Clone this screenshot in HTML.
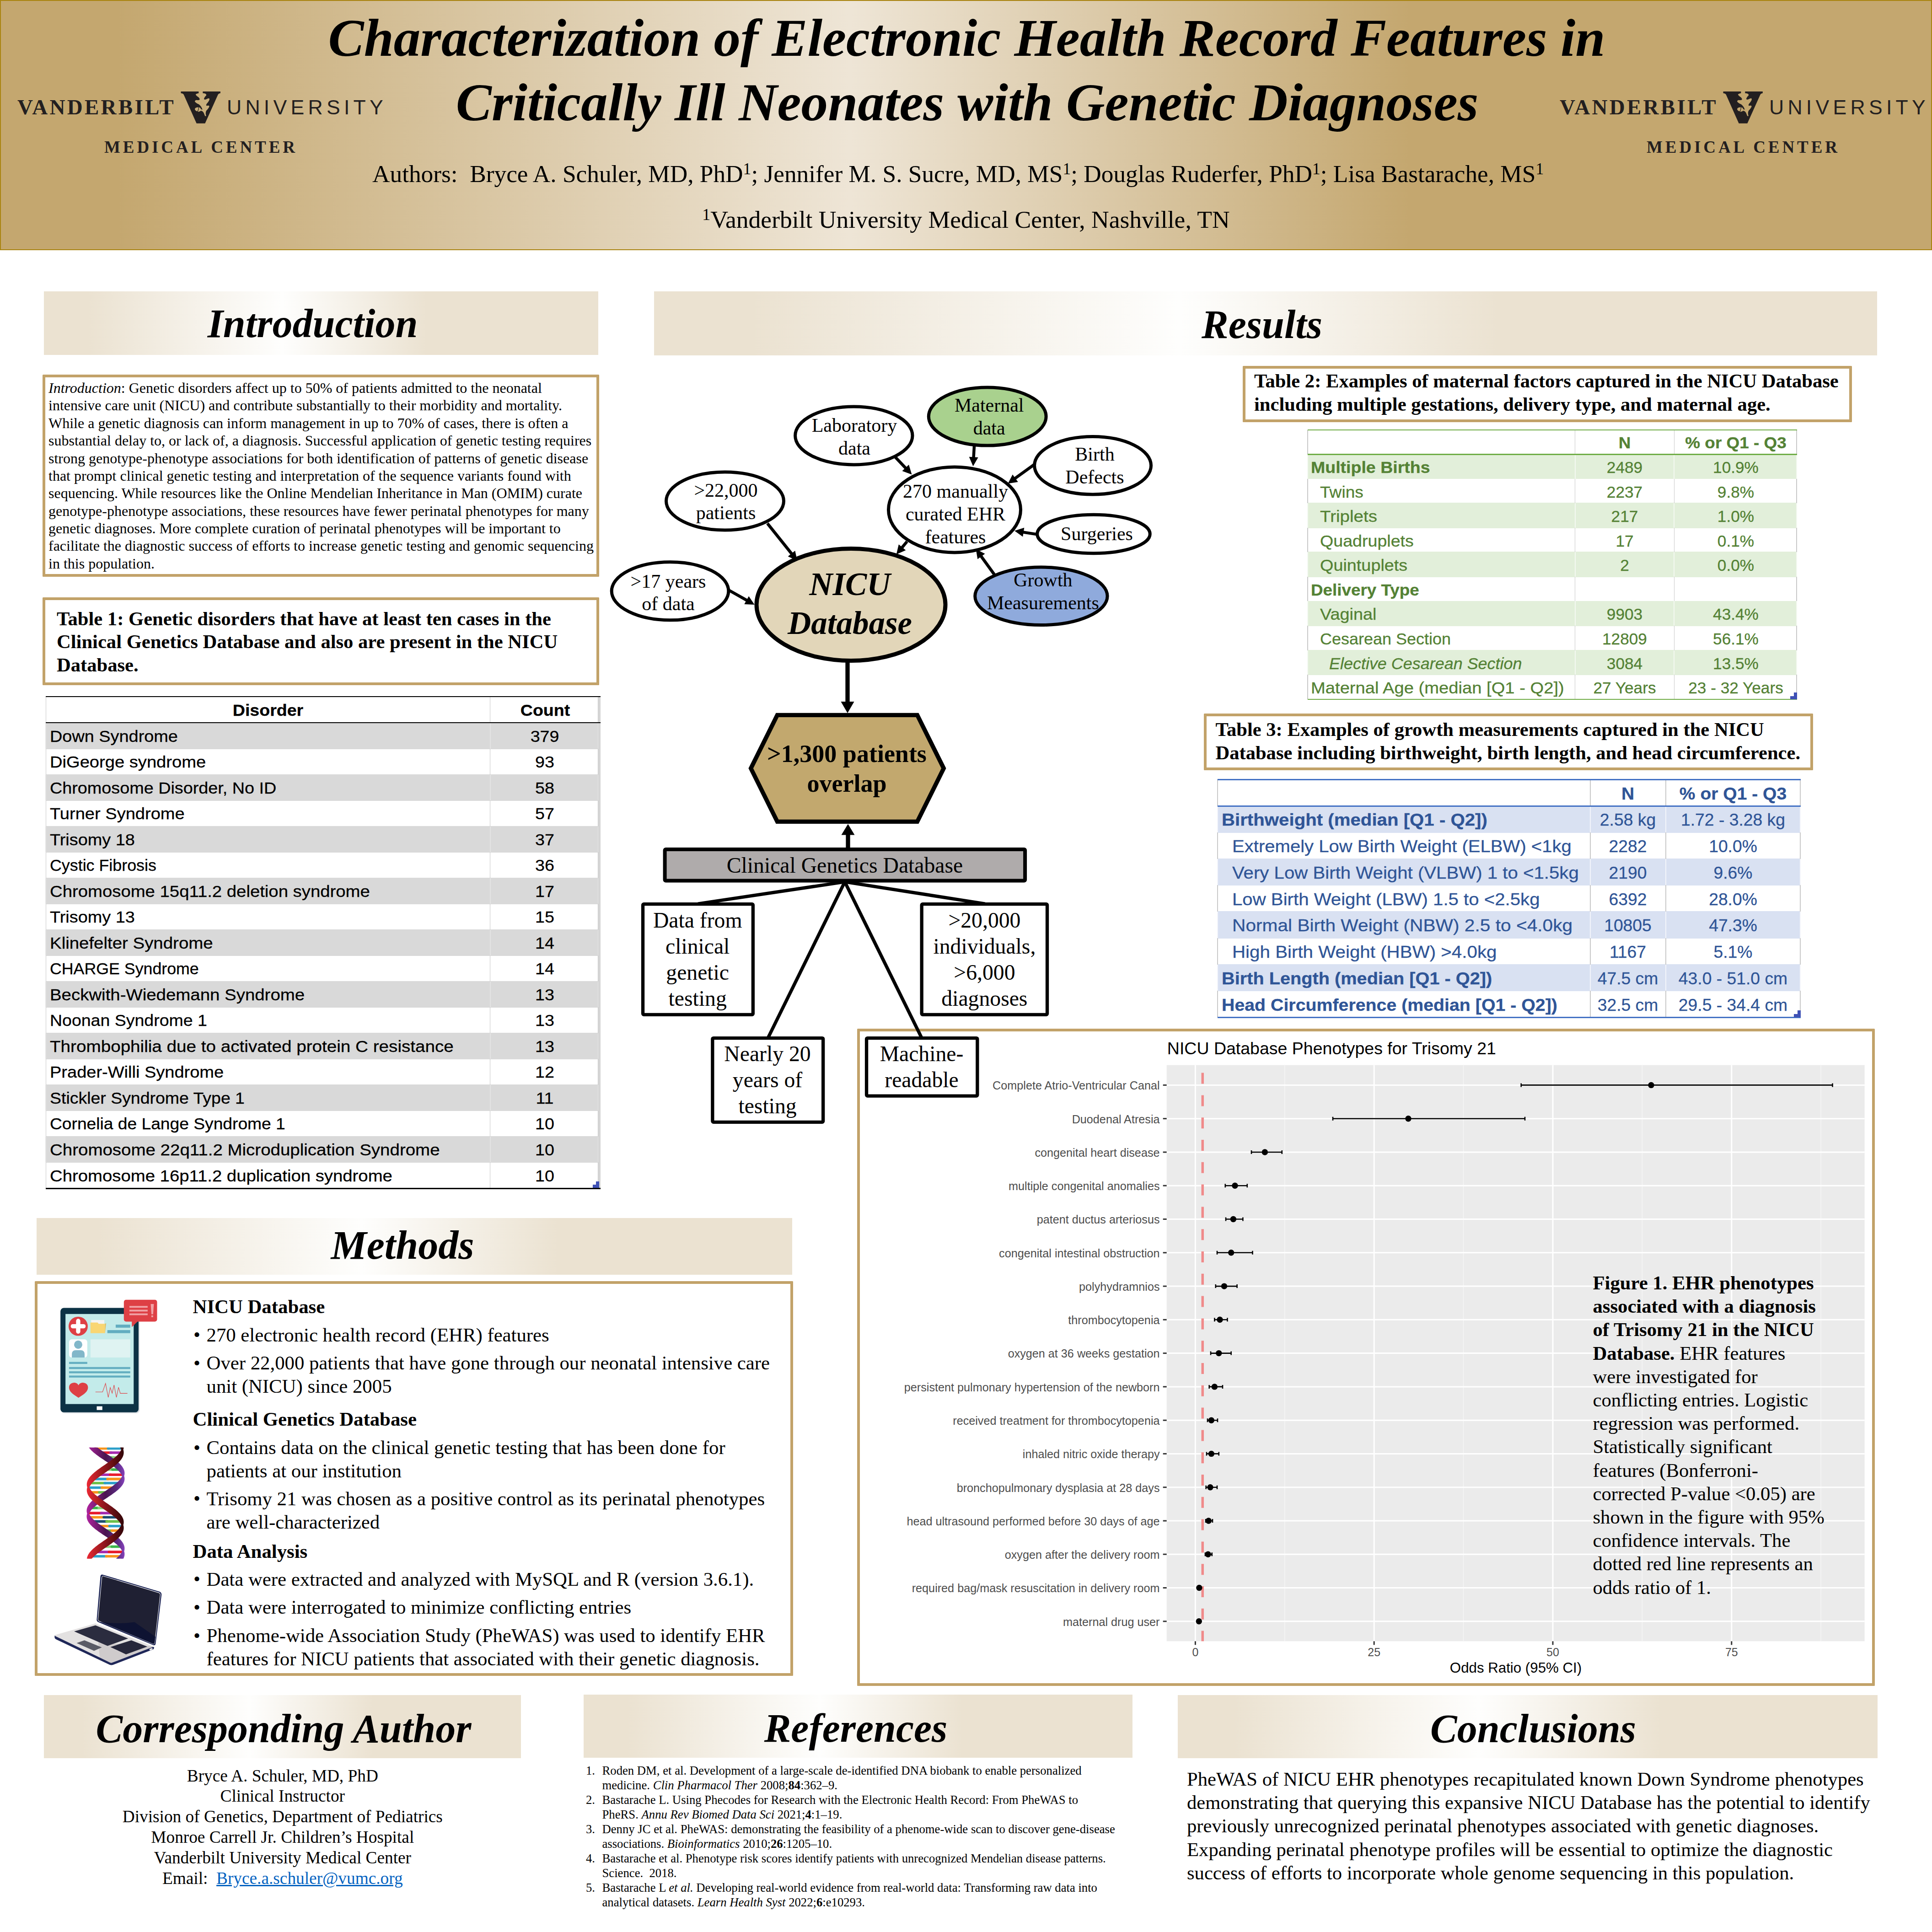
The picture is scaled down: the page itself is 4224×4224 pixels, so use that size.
<!DOCTYPE html>
<html lang="en"><head><meta charset="utf-8"><title>Characterization of Electronic Health Record Features in Critically Ill Neonates with Genetic Diagnoses</title>
<style>
html,body{margin:0;padding:0;background:#fff;}
body{width:4224px;height:4224px;position:relative;overflow:hidden;font-family:"Liberation Serif",serif;color:#000;}
.t{position:absolute;white-space:nowrap;margin:0;padding:0;}
.b{position:absolute;margin:0;padding:0;}
.sup{font-size:66.7%;position:relative;top:-0.465em;line-height:0;}
svg text{white-space:pre;}
</style></head><body>
<div class="b" style="left:0.0px;top:0.0px;width:4224.0px;height:547.0px;background:linear-gradient(90deg,#c4a76f 0%,#c4a76f 6%,#eee5d6 44%,#c4a76f 73%,#c4a76f 100%);box-sizing:border-box;border:2px solid #a98412;"></div>
<div class="t" style="left:613.5px;width:3000px;text-align:center;top:12.9px;font-family:'Liberation Serif', serif;font-size:117.15px;line-height:140.58px;font-weight:bold;font-style:italic;">Characterization of Electronic Health Record Features in</div>
<div class="t" style="left:614.5px;width:3000px;text-align:center;top:154.2px;font-family:'Liberation Serif', serif;font-size:117.15px;line-height:140.58px;font-weight:bold;font-style:italic;">Critically Ill Neonates with Genetic Diagnoses</div>
<div class="t" style="left:814.0px;top:348.5px;font-family:'Liberation Serif', serif;font-size:53.30px;line-height:63.96px;">Authors:&nbsp; Bryce A. Schuler, MD, PhD<span class="sup">1</span>; Jennifer M. S. Sucre, MD, MS<span class="sup">1</span>; Douglas Ruderfer, PhD<span class="sup">1</span>; Lisa Bastarache, MS<span class="sup">1</span></div>
<div class="t" style="left:612.0px;width:3000px;text-align:center;top:447.8px;font-family:'Liberation Serif', serif;font-size:53.60px;line-height:64.32px;"><span class="sup">1</span>Vanderbilt University Medical Center, Nashville, TN</div>
<div class="t" style="left:38.0px;top:205.9px;font-family:'Liberation Serif', serif;font-size:47.00px;line-height:56.40px;font-weight:bold;letter-spacing:4.3px;color:#231f20;">VANDERBILT</div>
<div class="t" style="left:496.0px;top:208.1px;font-family:'Liberation Sans', sans-serif;font-size:44.50px;line-height:53.40px;letter-spacing:8.3px;color:#231f20;font-weight:normal;">UNIVERSITY</div>
<div class="t" style="left:228.0px;top:300.3px;font-family:'Liberation Serif', serif;font-size:37.00px;line-height:44.40px;font-weight:bold;letter-spacing:5.9px;color:#231f20;">MEDICAL CENTER</div>
<svg class="b" style="left:380px;top:190px" width="120" height="90" viewBox="0 0 1932 1449"><path fill-rule="evenodd" fill="#231f20" d="M250 160 H1640 V222 Q1590 228 1560 262 L1100 1285 H800 L345 262 Q315 228 250 222 Z M875 160 V222 Q800 235 770 262 Q775 300 850 350 Q920 400 910 445 Q890 480 800 462 Q745 470 740 510 Q760 560 880 610 Q960 660 1010 800 L960 790 Q930 720 890 715 Q880 800 850 870 Q870 890 960 838 Q1020 850 1050 905 L1100 1025 H1140 Q1100 900 1150 830 Q1240 740 1250 680 Q1240 645 1160 665 Q1120 650 1160 590 Q1260 480 1255 420 Q1235 380 1150 430 Q1070 470 1060 420 Q1070 360 1140 300 Q1160 260 1100 235 Q1060 225 1020 222 V160 Z M870 715 Q860 800 830 860 Q750 840 740 780 Q750 715 870 715 Z"/></svg>
<div class="t" style="left:3410.0px;top:205.9px;font-family:'Liberation Serif', serif;font-size:47.00px;line-height:56.40px;font-weight:bold;letter-spacing:4.3px;color:#231f20;">VANDERBILT</div>
<div class="t" style="left:3868.0px;top:208.1px;font-family:'Liberation Sans', sans-serif;font-size:44.50px;line-height:53.40px;letter-spacing:8.3px;color:#231f20;font-weight:normal;">UNIVERSITY</div>
<div class="t" style="left:3600.0px;top:300.3px;font-family:'Liberation Serif', serif;font-size:37.00px;line-height:44.40px;font-weight:bold;letter-spacing:5.9px;color:#231f20;">MEDICAL CENTER</div>
<svg class="b" style="left:3752px;top:190px" width="120" height="90" viewBox="0 0 1932 1449"><path fill-rule="evenodd" fill="#231f20" d="M250 160 H1640 V222 Q1590 228 1560 262 L1100 1285 H800 L345 262 Q315 228 250 222 Z M875 160 V222 Q800 235 770 262 Q775 300 850 350 Q920 400 910 445 Q890 480 800 462 Q745 470 740 510 Q760 560 880 610 Q960 660 1010 800 L960 790 Q930 720 890 715 Q880 800 850 870 Q870 890 960 838 Q1020 850 1050 905 L1100 1025 H1140 Q1100 900 1150 830 Q1240 740 1250 680 Q1240 645 1160 665 Q1120 650 1160 590 Q1260 480 1255 420 Q1235 380 1150 430 Q1070 470 1060 420 Q1070 360 1140 300 Q1160 260 1100 235 Q1060 225 1020 222 V160 Z M870 715 Q860 800 830 860 Q750 840 740 780 Q750 715 870 715 Z"/></svg>
<div class="b" style="left:96.0px;top:637.0px;width:1212.0px;height:139.0px;background:linear-gradient(90deg,#ebe2d1 0%,#ebe2d1 8%,#fefefd 43%,#ebe2d1 69%,#ebe2d1 100%);"></div>
<div class="t" style="left:-816.5px;width:3000px;text-align:center;top:654.7px;font-family:'Liberation Serif', serif;font-size:88.00px;line-height:105.60px;font-weight:bold;font-style:italic;">Introduction</div>
<div class="b" style="left:93.3px;top:819.0px;width:1205.0px;height:429.5px;border:6.5px solid #c2a269;border-radius:1.5px;background:#fff"></div>
<div class="t" style="left:106.0px;top:829.0px;font-family:'Liberation Serif', serif;font-size:32.00px;line-height:38.37px;"><i>Introduction</i>: Genetic disorders affect up to 50% of patients admitted to the neonatal<br>intensive care unit (NICU) and contribute substantially to their morbidity and mortality.<br>While a genetic diagnosis can inform management in up to 70% of cases, there is often a<br>substantial delay to, or lack of, a diagnosis. Successful application of genetic testing requires<br>strong genotype-phenotype associations for both identification of patterns of genetic disease<br>that prompt clinical genetic testing and interpretation of the sequence variants found with<br>sequencing. While resources like the Online Mendelian Inheritance in Man (OMIM) curate<br>genotype-phenotype associations, these resources have fewer perinatal phenotypes for many<br>genetic diagnoses. More complete curation of perinatal phenotypes will be important to<br>facilitate the diagnostic success of efforts to increase genetic testing and genomic sequencing<br>in this population.</div>
<div class="b" style="left:93.3px;top:1306.0px;width:1205.0px;height:180.0px;border:6.5px solid #c2a269;border-radius:1.5px;background:#fff"></div>
<div class="t" style="left:124.0px;top:1327.9px;font-family:'Liberation Serif', serif;font-size:42.60px;line-height:50.50px;font-weight:bold;">Table 1: Genetic disorders that have at least ten cases in the<br>Clinical Genetics Database and also are present in the NICU<br>Database.</div>
<div class="b" style="left:80.0px;top:2662.8px;width:1651.8px;height:124.2px;background:linear-gradient(90deg,#ebe2d1 0%,#ebe2d1 8%,#fefefd 43%,#ebe2d1 69%,#ebe2d1 100%);"></div>
<div class="t" style="left:-620.0px;width:3000px;text-align:center;top:2669.5px;font-family:'Liberation Serif', serif;font-size:88.00px;line-height:105.60px;font-weight:bold;font-style:italic;">Methods</div>
<div class="b" style="left:76.0px;top:2801.0px;width:1646.4px;height:850.8px;border:6.6px solid #c2a269;border-radius:1.5px;background:#fff"></div>
<div class="t" style="left:421.5px;top:2830.9px;font-family:'Liberation Serif', serif;font-size:42.78px;line-height:51.34px;font-weight:bold;">NICU Database</div>
<div class="t" style="left:423.0px;top:2892.3px;font-family:'Liberation Serif', serif;font-size:42.78px;line-height:51.34px;">•</div>
<div class="t" style="left:451.5px;top:2892.5px;font-family:'Liberation Serif', serif;font-size:42.78px;line-height:51.00px;">270 electronic health record (EHR) features</div>
<div class="t" style="left:423.0px;top:2953.9px;font-family:'Liberation Serif', serif;font-size:42.78px;line-height:51.34px;">•</div>
<div class="t" style="left:451.5px;top:2954.1px;font-family:'Liberation Serif', serif;font-size:42.78px;line-height:51.00px;">Over 22,000 patients that have gone through our neonatal intensive care<br>unit (NICU) since 2005</div>
<div class="t" style="left:421.5px;top:3076.9px;font-family:'Liberation Serif', serif;font-size:42.78px;line-height:51.34px;font-weight:bold;">Clinical Genetics Database</div>
<div class="t" style="left:423.0px;top:3138.6px;font-family:'Liberation Serif', serif;font-size:42.78px;line-height:51.34px;">•</div>
<div class="t" style="left:451.5px;top:3138.8px;font-family:'Liberation Serif', serif;font-size:42.78px;line-height:51.00px;">Contains data on the clinical genetic testing that has been done for<br>patients at our institution</div>
<div class="t" style="left:423.0px;top:3250.4px;font-family:'Liberation Serif', serif;font-size:42.78px;line-height:51.34px;">•</div>
<div class="t" style="left:451.5px;top:3250.6px;font-family:'Liberation Serif', serif;font-size:42.78px;line-height:51.00px;">Trisomy 21 was chosen as a positive control as its perinatal phenotypes<br>are well-characterized</div>
<div class="t" style="left:421.5px;top:3365.6px;font-family:'Liberation Serif', serif;font-size:42.78px;line-height:51.34px;font-weight:bold;">Data Analysis</div>
<div class="t" style="left:423.0px;top:3426.4px;font-family:'Liberation Serif', serif;font-size:42.78px;line-height:51.34px;">•</div>
<div class="t" style="left:451.5px;top:3426.6px;font-family:'Liberation Serif', serif;font-size:42.78px;line-height:51.00px;">Data were extracted and analyzed with MySQL and R (version 3.6.1).</div>
<div class="t" style="left:423.0px;top:3487.9px;font-family:'Liberation Serif', serif;font-size:42.78px;line-height:51.34px;">•</div>
<div class="t" style="left:451.5px;top:3488.1px;font-family:'Liberation Serif', serif;font-size:42.78px;line-height:51.00px;">Data were interrogated to minimize conflicting entries</div>
<div class="t" style="left:423.0px;top:3549.5px;font-family:'Liberation Serif', serif;font-size:42.78px;line-height:51.34px;">•</div>
<div class="t" style="left:451.5px;top:3549.7px;font-family:'Liberation Serif', serif;font-size:42.78px;line-height:51.00px;">Phenome-wide Association Study (PheWAS) was used to identify EHR<br>features for NICU patients that associated with their genetic diagnosis.</div>
<div class="b" style="left:1430.0px;top:637.0px;width:2674.0px;height:140.0px;background:linear-gradient(90deg,#ebe2d1 0%,#ebe2d1 8%,#fefefd 43%,#ebe2d1 69%,#ebe2d1 100%);"></div>
<div class="t" style="left:1259.0px;width:3000px;text-align:center;top:657.1px;font-family:'Liberation Serif', serif;font-size:88.00px;line-height:105.60px;font-weight:bold;font-style:italic;">Results</div>
<div class="b" style="left:96.0px;top:3705.5px;width:1043.0px;height:138.5px;background:linear-gradient(90deg,#ebe2d1 0%,#ebe2d1 8%,#fefefd 43%,#ebe2d1 69%,#ebe2d1 100%);"></div>
<div class="t" style="left:-880.0px;width:3000px;text-align:center;top:3726.5px;font-family:'Liberation Serif', serif;font-size:88.00px;line-height:105.60px;font-weight:bold;font-style:italic;">Corresponding Author</div>
<div class="t" style="left:17.8px;width:1200px;text-align:center;top:3860.7px;font-family:'Liberation Serif', serif;font-size:37.30px;line-height:44.78px;">Bryce A. Schuler, MD, PhD<br>Clinical Instructor<br>Division of Genetics, Department of Pediatrics<br>Monroe Carrell Jr. Children’s Hospital<br>Vanderbilt University Medical Center<br>Email:&nbsp; <span style="color:#0563c1;text-decoration:underline">Bryce.a.schuler@vumc.org</span></div>
<div class="b" style="left:1275.5px;top:3705.0px;width:1200.5px;height:138.0px;background:linear-gradient(90deg,#ebe2d1 0%,#ebe2d1 8%,#fefefd 43%,#ebe2d1 69%,#ebe2d1 100%);"></div>
<div class="t" style="left:371.0px;width:3000px;text-align:center;top:3726.0px;font-family:'Liberation Serif', serif;font-size:88.00px;line-height:105.60px;font-weight:bold;font-style:italic;">References</div>
<div class="t" style="left:1281.0px;top:3856.0px;font-family:'Liberation Serif', serif;font-size:26.70px;line-height:31.95px;">1.</div>
<div class="t" style="left:1316.5px;top:3856.0px;font-family:'Liberation Serif', serif;font-size:26.70px;line-height:31.95px;">Roden DM, et al. Development of a large-scale de-identified DNA biobank to enable personalized<br>medicine. <i>Clin Pharmacol Ther</i> 2008;<b>84</b>:362–9.</div>
<div class="t" style="left:1281.0px;top:3919.9px;font-family:'Liberation Serif', serif;font-size:26.70px;line-height:31.95px;">2.</div>
<div class="t" style="left:1316.5px;top:3919.9px;font-family:'Liberation Serif', serif;font-size:26.70px;line-height:31.95px;">Bastarache L. Using Phecodes for Research with the Electronic Health Record: From PheWAS to<br>PheRS. <i>Annu Rev Biomed Data Sci</i> 2021;<b>4</b>:1–19.</div>
<div class="t" style="left:1281.0px;top:3983.8px;font-family:'Liberation Serif', serif;font-size:26.70px;line-height:31.95px;">3.</div>
<div class="t" style="left:1316.5px;top:3983.8px;font-family:'Liberation Serif', serif;font-size:26.70px;line-height:31.95px;">Denny JC et al. PheWAS: demonstrating the feasibility of a phenome-wide scan to discover gene-disease<br>associations. <i>Bioinformatics</i> 2010;<b>26</b>:1205–10.</div>
<div class="t" style="left:1281.0px;top:4047.7px;font-family:'Liberation Serif', serif;font-size:26.70px;line-height:31.95px;">4.</div>
<div class="t" style="left:1316.5px;top:4047.7px;font-family:'Liberation Serif', serif;font-size:26.70px;line-height:31.95px;">Bastarache et al. Phenotype risk scores identify patients with unrecognized Mendelian disease patterns.<br>Science.&nbsp; 2018.</div>
<div class="t" style="left:1281.0px;top:4111.6px;font-family:'Liberation Serif', serif;font-size:26.70px;line-height:31.95px;">5.</div>
<div class="t" style="left:1316.5px;top:4111.6px;font-family:'Liberation Serif', serif;font-size:26.70px;line-height:31.95px;">Bastarache L <i>et al.</i> Developing real-world evidence from real-world data: Transforming raw data into<br>analytical datasets. <i>Learn Health Syst</i> 2022;<b>6</b>:e10293.</div>
<div class="b" style="left:2575.0px;top:3706.0px;width:1529.5px;height:138.0px;background:linear-gradient(90deg,#ebe2d1 0%,#ebe2d1 8%,#fefefd 43%,#ebe2d1 69%,#ebe2d1 100%);"></div>
<div class="t" style="left:1852.0px;width:3000px;text-align:center;top:3726.5px;font-family:'Liberation Serif', serif;font-size:88.00px;line-height:105.60px;font-weight:bold;font-style:italic;">Conclusions</div>
<div class="t" style="left:2595.0px;top:3864.0px;font-family:'Liberation Serif', serif;font-size:42.67px;line-height:51.20px;">PheWAS of NICU EHR phenotypes recapitulated known Down Syndrome phenotypes<br>demonstrating that querying this expansive NICU Database has the potential to identify<br>previously unrecognized perinatal phenotypes associated with genetic diagnoses.<br>Expanding perinatal phenotype profiles will be essential to optimize the diagnostic<br>success of efforts to incorporate whole genome sequencing in this population.</div>
<div class="b" style="left:1873.8px;top:2249.3px;width:2213.1px;height:1424.6px;border:6.3px solid #c2a269;border-radius:1.5px;background:#fff"></div>
<svg class="b" style="left:0;top:0" width="4224" height="4224" viewBox="0 0 4224 4224" font-family="'Liberation Sans', sans-serif">
<rect x="2550.7" y="2328.6" width="1526.0" height="1259.7000000000003" fill="#ebebeb"/>
<line x1="2808.8" y1="2328.6" x2="2808.8" y2="3588.3" stroke="#f5f5f5" stroke-width="1.6"/>
<line x1="3199.6" y1="2328.6" x2="3199.6" y2="3588.3" stroke="#f5f5f5" stroke-width="1.6"/>
<line x1="3590.4" y1="2328.6" x2="3590.4" y2="3588.3" stroke="#f5f5f5" stroke-width="1.6"/>
<line x1="3981.2" y1="2328.6" x2="3981.2" y2="3588.3" stroke="#f5f5f5" stroke-width="1.6"/>
<line x1="2613.4" y1="2328.6" x2="2613.4" y2="3588.3" stroke="#fff" stroke-width="3"/>
<line x1="2613.4" y1="3588.3" x2="2613.4" y2="3596.3" stroke="#333" stroke-width="3"/>
<text x="2613.4" y="3620.8" font-size="25" fill="#4d4d4d" text-anchor="middle">0</text>
<line x1="3004.2" y1="2328.6" x2="3004.2" y2="3588.3" stroke="#fff" stroke-width="3"/>
<line x1="3004.2" y1="3588.3" x2="3004.2" y2="3596.3" stroke="#333" stroke-width="3"/>
<text x="3004.2" y="3620.8" font-size="25" fill="#4d4d4d" text-anchor="middle">25</text>
<line x1="3395.0" y1="2328.6" x2="3395.0" y2="3588.3" stroke="#fff" stroke-width="3"/>
<line x1="3395.0" y1="3588.3" x2="3395.0" y2="3596.3" stroke="#333" stroke-width="3"/>
<text x="3395.0" y="3620.8" font-size="25" fill="#4d4d4d" text-anchor="middle">50</text>
<line x1="3785.8" y1="2328.6" x2="3785.8" y2="3588.3" stroke="#fff" stroke-width="3"/>
<line x1="3785.8" y1="3588.3" x2="3785.8" y2="3596.3" stroke="#333" stroke-width="3"/>
<text x="3785.8" y="3620.8" font-size="25" fill="#4d4d4d" text-anchor="middle">75</text>
<line x1="2550.7" y1="2372.4" x2="4076.7" y2="2372.4" stroke="#fff" stroke-width="3"/>
<line x1="2550.7" y1="2445.7" x2="4076.7" y2="2445.7" stroke="#fff" stroke-width="3"/>
<line x1="2550.7" y1="2519.0" x2="4076.7" y2="2519.0" stroke="#fff" stroke-width="3"/>
<line x1="2550.7" y1="2592.2" x2="4076.7" y2="2592.2" stroke="#fff" stroke-width="3"/>
<line x1="2550.7" y1="2665.5" x2="4076.7" y2="2665.5" stroke="#fff" stroke-width="3"/>
<line x1="2550.7" y1="2738.8" x2="4076.7" y2="2738.8" stroke="#fff" stroke-width="3"/>
<line x1="2550.7" y1="2812.1" x2="4076.7" y2="2812.1" stroke="#fff" stroke-width="3"/>
<line x1="2550.7" y1="2885.3" x2="4076.7" y2="2885.3" stroke="#fff" stroke-width="3"/>
<line x1="2550.7" y1="2958.6" x2="4076.7" y2="2958.6" stroke="#fff" stroke-width="3"/>
<line x1="2550.7" y1="3031.9" x2="4076.7" y2="3031.9" stroke="#fff" stroke-width="3"/>
<line x1="2550.7" y1="3105.2" x2="4076.7" y2="3105.2" stroke="#fff" stroke-width="3"/>
<line x1="2550.7" y1="3178.4" x2="4076.7" y2="3178.4" stroke="#fff" stroke-width="3"/>
<line x1="2550.7" y1="3251.7" x2="4076.7" y2="3251.7" stroke="#fff" stroke-width="3"/>
<line x1="2550.7" y1="3325.0" x2="4076.7" y2="3325.0" stroke="#fff" stroke-width="3"/>
<line x1="2550.7" y1="3398.2" x2="4076.7" y2="3398.2" stroke="#fff" stroke-width="3"/>
<line x1="2550.7" y1="3471.5" x2="4076.7" y2="3471.5" stroke="#fff" stroke-width="3"/>
<line x1="2550.7" y1="3544.8" x2="4076.7" y2="3544.8" stroke="#fff" stroke-width="3"/>
<line x1="2629.3" y1="2345.6" x2="2629.3" y2="3588.3" stroke="#f08a8a" stroke-width="5.5" stroke-dasharray="24 24.8"/>
<line x1="2542.7" y1="2372.4" x2="2550.7" y2="2372.4" stroke="#333" stroke-width="3"/>
<text x="2535.5" y="2382.2" font-size="25.2" fill="#4d4d4d" text-anchor="end">Complete Atrio-Ventricular Canal</text>
<path d="M3325.7 2372.4 H4006.5 M3325.7 2368.4 v8 M4006.5 2368.4 v8" stroke="#000" stroke-width="2.6" fill="none"/>
<circle cx="3610.0" cy="2372.4" r="6.7" fill="#000"/>
<line x1="2542.7" y1="2445.7" x2="2550.7" y2="2445.7" stroke="#333" stroke-width="3"/>
<text x="2535.5" y="2455.5" font-size="25.2" fill="#4d4d4d" text-anchor="end">Duodenal Atresia</text>
<path d="M2914.0 2445.7 H3334.0 M2914.0 2441.7 v8 M3334.0 2441.7 v8" stroke="#000" stroke-width="2.6" fill="none"/>
<circle cx="3079.0" cy="2445.7" r="6.7" fill="#000"/>
<line x1="2542.7" y1="2519.0" x2="2550.7" y2="2519.0" stroke="#333" stroke-width="3"/>
<text x="2535.5" y="2528.8" font-size="25.2" fill="#4d4d4d" text-anchor="end">congenital heart disease</text>
<path d="M2736.0 2519.0 H2802.8 M2736.0 2515.0 v8 M2802.8 2515.0 v8" stroke="#000" stroke-width="2.6" fill="none"/>
<circle cx="2765.4" cy="2519.0" r="6.7" fill="#000"/>
<line x1="2542.7" y1="2592.2" x2="2550.7" y2="2592.2" stroke="#333" stroke-width="3"/>
<text x="2535.5" y="2602.0" font-size="25.2" fill="#4d4d4d" text-anchor="end">multiple congenital anomalies</text>
<path d="M2678.8 2592.2 H2726.8 M2678.8 2588.2 v8 M2726.8 2588.2 v8" stroke="#000" stroke-width="2.6" fill="none"/>
<circle cx="2700.0" cy="2592.2" r="6.7" fill="#000"/>
<line x1="2542.7" y1="2665.5" x2="2550.7" y2="2665.5" stroke="#333" stroke-width="3"/>
<text x="2535.5" y="2675.3" font-size="25.2" fill="#4d4d4d" text-anchor="end">patent ductus arteriosus</text>
<path d="M2680.0 2665.5 H2717.4 M2680.0 2661.5 v8 M2717.4 2661.5 v8" stroke="#000" stroke-width="2.6" fill="none"/>
<circle cx="2696.4" cy="2665.5" r="6.7" fill="#000"/>
<line x1="2542.7" y1="2738.8" x2="2550.7" y2="2738.8" stroke="#333" stroke-width="3"/>
<text x="2535.5" y="2748.6" font-size="25.2" fill="#4d4d4d" text-anchor="end">congenital intestinal obstruction</text>
<path d="M2661.0 2738.8 H2738.5 M2661.0 2734.8 v8 M2738.5 2734.8 v8" stroke="#000" stroke-width="2.6" fill="none"/>
<circle cx="2691.7" cy="2738.8" r="6.7" fill="#000"/>
<line x1="2542.7" y1="2812.1" x2="2550.7" y2="2812.1" stroke="#333" stroke-width="3"/>
<text x="2535.5" y="2821.9" font-size="25.2" fill="#4d4d4d" text-anchor="end">polyhydramnios</text>
<path d="M2657.8 2812.1 H2704.6 M2657.8 2808.1 v8 M2704.6 2808.1 v8" stroke="#000" stroke-width="2.6" fill="none"/>
<circle cx="2676.5" cy="2812.1" r="6.7" fill="#000"/>
<line x1="2542.7" y1="2885.3" x2="2550.7" y2="2885.3" stroke="#333" stroke-width="3"/>
<text x="2535.5" y="2895.1" font-size="25.2" fill="#4d4d4d" text-anchor="end">thrombocytopenia</text>
<path d="M2655.4 2885.3 H2683.5 M2655.4 2881.3 v8 M2683.5 2881.3 v8" stroke="#000" stroke-width="2.6" fill="none"/>
<circle cx="2667.0" cy="2885.3" r="6.7" fill="#000"/>
<line x1="2542.7" y1="2958.6" x2="2550.7" y2="2958.6" stroke="#333" stroke-width="3"/>
<text x="2535.5" y="2968.4" font-size="25.2" fill="#4d4d4d" text-anchor="end">oxygen at 36 weeks gestation</text>
<path d="M2647.0 2958.6 H2691.7 M2647.0 2954.6 v8 M2691.7 2954.6 v8" stroke="#000" stroke-width="2.6" fill="none"/>
<circle cx="2664.8" cy="2958.6" r="6.7" fill="#000"/>
<line x1="2542.7" y1="3031.9" x2="2550.7" y2="3031.9" stroke="#333" stroke-width="3"/>
<text x="2535.5" y="3041.7" font-size="25.2" fill="#4d4d4d" text-anchor="end">persistent pulmonary hypertension of the newborn</text>
<path d="M2643.7 3031.9 H2673.0 M2643.7 3027.9 v8 M2673.0 3027.9 v8" stroke="#000" stroke-width="2.6" fill="none"/>
<circle cx="2655.4" cy="3031.9" r="6.7" fill="#000"/>
<line x1="2542.7" y1="3105.2" x2="2550.7" y2="3105.2" stroke="#333" stroke-width="3"/>
<text x="2535.5" y="3115.0" font-size="25.2" fill="#4d4d4d" text-anchor="end">received treatment for thrombocytopenia</text>
<path d="M2640.0 3105.2 H2662.0 M2640.0 3101.2 v8 M2662.0 3101.2 v8" stroke="#000" stroke-width="2.6" fill="none"/>
<circle cx="2648.4" cy="3105.2" r="6.7" fill="#000"/>
<line x1="2542.7" y1="3178.4" x2="2550.7" y2="3178.4" stroke="#333" stroke-width="3"/>
<text x="2535.5" y="3188.2" font-size="25.2" fill="#4d4d4d" text-anchor="end">inhaled nitric oxide therapy</text>
<path d="M2638.0 3178.4 H2664.8 M2638.0 3174.4 v8 M2664.8 3174.4 v8" stroke="#000" stroke-width="2.6" fill="none"/>
<circle cx="2648.4" cy="3178.4" r="6.7" fill="#000"/>
<line x1="2542.7" y1="3251.7" x2="2550.7" y2="3251.7" stroke="#333" stroke-width="3"/>
<text x="2535.5" y="3261.5" font-size="25.2" fill="#4d4d4d" text-anchor="end">bronchopulmonary dysplasia at 28 days</text>
<path d="M2636.7 3251.7 H2661.0 M2636.7 3247.7 v8 M2661.0 3247.7 v8" stroke="#000" stroke-width="2.6" fill="none"/>
<circle cx="2646.0" cy="3251.7" r="6.7" fill="#000"/>
<line x1="2542.7" y1="3325.0" x2="2550.7" y2="3325.0" stroke="#333" stroke-width="3"/>
<text x="2535.5" y="3334.8" font-size="25.2" fill="#4d4d4d" text-anchor="end">head ultrasound performed before 30 days of age</text>
<path d="M2636.0 3325.0 H2651.0 M2636.0 3321.0 v8 M2651.0 3321.0 v8" stroke="#000" stroke-width="2.6" fill="none"/>
<circle cx="2642.3" cy="3325.0" r="6.7" fill="#000"/>
<line x1="2542.7" y1="3398.2" x2="2550.7" y2="3398.2" stroke="#333" stroke-width="3"/>
<text x="2535.5" y="3408.1" font-size="25.2" fill="#4d4d4d" text-anchor="end">oxygen after the delivery room</text>
<path d="M2635.0 3398.2 H2649.8 M2635.0 3394.2 v8 M2649.8 3394.2 v8" stroke="#000" stroke-width="2.6" fill="none"/>
<circle cx="2641.2" cy="3398.2" r="6.7" fill="#000"/>
<line x1="2542.7" y1="3471.5" x2="2550.7" y2="3471.5" stroke="#333" stroke-width="3"/>
<text x="2535.5" y="3481.3" font-size="25.2" fill="#4d4d4d" text-anchor="end">required bag/mask resuscitation in delivery room</text>
<circle cx="2621.9" cy="3471.5" r="6.7" fill="#000"/>
<line x1="2542.7" y1="3544.8" x2="2550.7" y2="3544.8" stroke="#333" stroke-width="3"/>
<text x="2535.5" y="3554.6" font-size="25.2" fill="#4d4d4d" text-anchor="end">maternal drug user</text>
<circle cx="2621.3" cy="3544.8" r="6.7" fill="#000"/>
<text x="2551.8" y="2305.2" font-size="37.5" fill="#000">NICU Database Phenotypes for Trisomy 21</text>
<text x="3314" y="3656.8" font-size="31.25" fill="#000" text-anchor="middle">Odds Ratio (95% CI)</text>
</svg>
<div class="t" style="left:3482.5px;top:2779.0px;font-family:'Liberation Serif', serif;font-size:42.70px;line-height:51.20px;"><b>Figure 1. EHR phenotypes</b><br><b>associated with a diagnosis</b><br><b>of Trisomy 21 in the NICU</b><br><b>Database.</b> EHR features<br>were investigated for<br>conflicting entries. Logistic<br>regression was performed.<br>Statistically significant<br>features (Bonferroni-<br>corrected P-value &lt;0.05) are<br>shown in the figure with 95%<br>confidence intervals. The<br>dotted red line represents an<br>odds ratio of 1.</div>
<svg class="b" style="left:0;top:0" width="4224" height="4224" viewBox="0 0 4224 4224" font-family="'Liberation Serif', serif">
<line x1="1592.0" y1="1289.5" x2="1633.9" y2="1313.2" stroke="#000" stroke-width="6.5"/>
<polygon points="1649.6,1322.0 1627.3,1320.9 1637.1,1303.5" fill="#000"/>
<line x1="1677.8" y1="1144.4" x2="1731.8" y2="1211.9" stroke="#000" stroke-width="6.5"/>
<polygon points="1743.0,1226.0 1722.7,1216.6 1738.3,1204.1" fill="#000"/>
<line x1="1957.0" y1="999.0" x2="1981.1" y2="1024.4" stroke="#000" stroke-width="6.5"/>
<polygon points="1993.5,1037.4 1972.5,1029.8 1987.0,1016.0" fill="#000"/>
<line x1="2130.2" y1="972.0" x2="2128.5" y2="1001.3" stroke="#000" stroke-width="6.5"/>
<polygon points="2127.5,1019.3 2118.7,998.8 2138.6,999.9" fill="#000"/>
<line x1="2262.0" y1="1015.0" x2="2218.2" y2="1046.7" stroke="#000" stroke-width="6.5"/>
<polygon points="2203.6,1057.3 2213.9,1037.5 2225.7,1053.7" fill="#000"/>
<line x1="2268.0" y1="1168.4" x2="2235.8" y2="1163.4" stroke="#000" stroke-width="6.5"/>
<polygon points="2218.0,1160.6 2239.3,1153.8 2236.2,1173.6" fill="#000"/>
<line x1="2175.0" y1="1257.5" x2="2144.2" y2="1215.0" stroke="#000" stroke-width="6.5"/>
<polygon points="2133.7,1200.4 2153.5,1210.7 2137.3,1222.5" fill="#000"/>
<line x1="1983.0" y1="1184.0" x2="1971.3" y2="1198.1" stroke="#000" stroke-width="6.5"/>
<polygon points="1959.8,1212.0 1964.9,1190.2 1980.3,1203.0" fill="#000"/>
<line x1="1853.0" y1="1440.0" x2="1853.0" y2="1536.0" stroke="#000" stroke-width="9.3"/>
<polygon points="1853.0,1559.0 1838.5,1534.0 1867.5,1534.0" fill="#000"/>
<line x1="1854.0" y1="1858.0" x2="1854.0" y2="1823.5" stroke="#000" stroke-width="9.3"/>
<polygon points="1854.0,1801.5 1868.5,1825.5 1839.5,1825.5" fill="#000"/>
<line x1="1847" y1="1928" x2="1526" y2="1976" stroke="#000" stroke-width="7.3"/>
<line x1="1847" y1="1928" x2="1679.2" y2="2269" stroke="#000" stroke-width="7.3"/>
<line x1="1847" y1="1928" x2="2015" y2="2269" stroke="#000" stroke-width="7.3"/>
<line x1="1847" y1="1928" x2="2153.6" y2="1976" stroke="#000" stroke-width="7.3"/>
<ellipse cx="1465" cy="1292.3" rx="127.80000000000001" ry="63.5" fill="#fff" stroke="#000" stroke-width="7"/>
<text x="1461" y="1284.6" font-size="42" text-anchor="middle" >&gt;17 years</text>
<text x="1461" y="1333.9" font-size="42" text-anchor="middle" >of data</text>
<ellipse cx="1585" cy="1095.5" rx="128.5" ry="63.5" fill="#fff" stroke="#000" stroke-width="7"/>
<text x="1587" y="1086.4" font-size="42" text-anchor="middle" >&gt;22,000</text>
<text x="1587" y="1134.6" font-size="42" text-anchor="middle" >patients</text>
<ellipse cx="1866.8" cy="952.4" rx="128.2" ry="63.5" fill="#fff" stroke="#000" stroke-width="7"/>
<text x="1868" y="944.0" font-size="42" text-anchor="middle" >Laboratory</text>
<text x="1868" y="994.0" font-size="42" text-anchor="middle" >data</text>
<ellipse cx="2158.7" cy="910.6" rx="128.4" ry="63.5" fill="#a9d18e" stroke="#000" stroke-width="7"/>
<text x="2162.7" y="900.4" font-size="42" text-anchor="middle" >Maternal</text>
<text x="2162.7" y="949.7" font-size="42" text-anchor="middle" >data</text>
<ellipse cx="2389.1" cy="1017.8" rx="127.5" ry="63.2" fill="#fff" stroke="#000" stroke-width="7"/>
<text x="2393.5" y="1007.3" font-size="42" text-anchor="middle" >Birth</text>
<text x="2393.5" y="1057.3" font-size="42" text-anchor="middle" >Defects</text>
<ellipse cx="2391" cy="1167.5" rx="123.3" ry="42.2" fill="#fff" stroke="#000" stroke-width="7"/>
<text x="2398" y="1180.5" font-size="42" text-anchor="middle" >Surgeries</text>
<ellipse cx="2276.4" cy="1303.3" rx="144.7" ry="63.2" fill="#8faadc" stroke="#000" stroke-width="7"/>
<text x="2280.4" y="1282.0" font-size="42" text-anchor="middle" >Growth</text>
<text x="2280.4" y="1332.0" font-size="42" text-anchor="middle" >Measurements</text>
<ellipse cx="2087" cy="1114.4" rx="144.5" ry="93.5" fill="#fff" stroke="#000" stroke-width="7"/>
<text x="2089" y="1088.0" font-size="42" text-anchor="middle" >270 manually</text>
<text x="2089" y="1137.9" font-size="42" text-anchor="middle" >curated EHR</text>
<text x="2089" y="1187.8" font-size="42" text-anchor="middle" >features</text>
<ellipse cx="1860.5" cy="1322" rx="206.5" ry="122.5" fill="#e2d6b9" stroke="#000" stroke-width="9"/>
<text x="1858" y="1301.3" font-size="71" text-anchor="middle" font-weight="bold" font-style="italic">NICU</text>
<text x="1858" y="1386.1" font-size="71" text-anchor="middle" font-weight="bold" font-style="italic">Database</text>
<polygon points="1641.6,1679.85 1699.4,1563.35 2005.5,1563.35 2063.3,1679.85 2005.5,1796.35 1699.4,1796.35" fill="#c2a86e" stroke="#000" stroke-width="9.3" stroke-linejoin="miter"/>
<text x="1851.5" y="1666.0" font-size="54" text-anchor="middle" font-weight="bold">&gt;1,300 patients</text>
<text x="1851.5" y="1730.5" font-size="54" text-anchor="middle" font-weight="bold">overlap</text>
<rect x="1453.6" y="1857" width="787.5" height="68.4" rx="2" fill="#afabab" stroke="#000" stroke-width="8"/>
<text x="1847" y="1908.0" font-size="47.7" text-anchor="middle" >Clinical Genetics Database</text>
<rect x="1405.5500000000002" y="1976.65" width="240.7999999999999" height="241.7" rx="2" fill="#fff" stroke="#000" stroke-width="7.3" stroke-linejoin="round"/>
<text x="1525.2" y="2028.3" font-size="47.7" text-anchor="middle" >Data from</text>
<text x="1525.2" y="2085.1" font-size="47.7" text-anchor="middle" >clinical</text>
<text x="1525.2" y="2141.9" font-size="47.7" text-anchor="middle" >genetic</text>
<text x="1525.2" y="2198.7" font-size="47.7" text-anchor="middle" >testing</text>
<rect x="2015.15" y="1976.65" width="274.3999999999998" height="241.7" rx="2" fill="#fff" stroke="#000" stroke-width="7.3" stroke-linejoin="round"/>
<text x="2152.4" y="2028.3" font-size="47.7" text-anchor="middle" >&gt;20,000</text>
<text x="2152.4" y="2085.1" font-size="47.7" text-anchor="middle" >individuals,</text>
<text x="2152.4" y="2141.9" font-size="47.7" text-anchor="middle" >&gt;6,000</text>
<text x="2152.4" y="2198.7" font-size="47.7" text-anchor="middle" >diagnoses</text>
<rect x="1557.8500000000001" y="2269.55" width="241.7999999999999" height="183.7999999999999" rx="2" fill="#fff" stroke="#000" stroke-width="7.3" stroke-linejoin="round"/>
<text x="1678" y="2320.4" font-size="47.7" text-anchor="middle" >Nearly 20</text>
<text x="1678" y="2377.2" font-size="47.7" text-anchor="middle" >years of</text>
<text x="1678" y="2434.0" font-size="47.7" text-anchor="middle" >testing</text>
<rect x="1894.5500000000002" y="2269.55" width="242.2999999999999" height="126.49999999999973" rx="2" fill="#fff" stroke="#000" stroke-width="7.3" stroke-linejoin="round"/>
<text x="2015" y="2320.4" font-size="47.7" text-anchor="middle" >Machine-</text>
<text x="2015" y="2377.2" font-size="47.7" text-anchor="middle" >readable</text>
</svg>
<div class="b" style="left:2716.5px;top:800.0px;width:1320.0px;height:111.0px;border:6.5px solid #c2a269;border-radius:1.5px;background:#fff"></div>
<div class="t" style="left:2742.0px;top:808.4px;font-family:'Liberation Serif', serif;font-size:42.60px;line-height:50.90px;font-weight:bold;">Table 2: Examples of maternal factors captured in the NICU Database<br>including multiple gestations, delivery type, and maternal age.</div>
<div class="b" style="left:2859.0px;top:992.1px;width:1070.0px;height:55.4px;background:#e2efda"></div>
<div class="t" style="left:2866.0px;top:1003.0px;font-family:'Liberation Sans', sans-serif;font-size:34.20px;line-height:39.33px;color:#548235;transform:scaleX(1.0975);-webkit-text-stroke:0.3px #548235;transform-origin:left center;font-weight:bold;">Multiple Births</div>
<div class="t" style="left:3252.0px;width:600px;text-align:center;top:1003.0px;font-family:'Liberation Sans', sans-serif;font-size:34.20px;line-height:39.33px;color:#548235;transform:scaleX(1.0300);-webkit-text-stroke:0.3px #548235;transform-origin:center center;">2489</div>
<div class="t" style="left:3494.7px;width:600px;text-align:center;top:1003.0px;font-family:'Liberation Sans', sans-serif;font-size:34.20px;line-height:39.33px;color:#548235;transform:scaleX(1.0300);-webkit-text-stroke:0.3px #548235;transform-origin:center center;">10.9%</div>
<div class="t" style="left:2886.0px;top:1056.6px;font-family:'Liberation Sans', sans-serif;font-size:34.20px;line-height:39.33px;color:#548235;transform:scaleX(1.0850);-webkit-text-stroke:0.3px #548235;transform-origin:left center;">Twins</div>
<div class="t" style="left:3252.0px;width:600px;text-align:center;top:1056.6px;font-family:'Liberation Sans', sans-serif;font-size:34.20px;line-height:39.33px;color:#548235;transform:scaleX(1.0300);-webkit-text-stroke:0.3px #548235;transform-origin:center center;">2237</div>
<div class="t" style="left:3494.7px;width:600px;text-align:center;top:1056.6px;font-family:'Liberation Sans', sans-serif;font-size:34.20px;line-height:39.33px;color:#548235;transform:scaleX(1.0300);-webkit-text-stroke:0.3px #548235;transform-origin:center center;">9.8%</div>
<div class="b" style="left:2859.0px;top:1099.2px;width:1070.0px;height:55.4px;background:#e2efda"></div>
<div class="t" style="left:2886.0px;top:1110.1px;font-family:'Liberation Sans', sans-serif;font-size:34.20px;line-height:39.33px;color:#548235;transform:scaleX(1.1290);-webkit-text-stroke:0.3px #548235;transform-origin:left center;">Triplets</div>
<div class="t" style="left:3252.0px;width:600px;text-align:center;top:1110.1px;font-family:'Liberation Sans', sans-serif;font-size:34.20px;line-height:39.33px;color:#548235;transform:scaleX(1.0300);-webkit-text-stroke:0.3px #548235;transform-origin:center center;">217</div>
<div class="t" style="left:3494.7px;width:600px;text-align:center;top:1110.1px;font-family:'Liberation Sans', sans-serif;font-size:34.20px;line-height:39.33px;color:#548235;transform:scaleX(1.0300);-webkit-text-stroke:0.3px #548235;transform-origin:center center;">1.0%</div>
<div class="t" style="left:2886.0px;top:1163.7px;font-family:'Liberation Sans', sans-serif;font-size:34.20px;line-height:39.33px;color:#548235;transform:scaleX(1.0995);-webkit-text-stroke:0.3px #548235;transform-origin:left center;">Quadruplets</div>
<div class="t" style="left:3252.0px;width:600px;text-align:center;top:1163.7px;font-family:'Liberation Sans', sans-serif;font-size:34.20px;line-height:39.33px;color:#548235;transform:scaleX(1.0300);-webkit-text-stroke:0.3px #548235;transform-origin:center center;">17</div>
<div class="t" style="left:3494.7px;width:600px;text-align:center;top:1163.7px;font-family:'Liberation Sans', sans-serif;font-size:34.20px;line-height:39.33px;color:#548235;transform:scaleX(1.0300);-webkit-text-stroke:0.3px #548235;transform-origin:center center;">0.1%</div>
<div class="b" style="left:2859.0px;top:1206.4px;width:1070.0px;height:55.4px;background:#e2efda"></div>
<div class="t" style="left:2886.0px;top:1217.3px;font-family:'Liberation Sans', sans-serif;font-size:34.20px;line-height:39.33px;color:#548235;transform:scaleX(1.1058);-webkit-text-stroke:0.3px #548235;transform-origin:left center;">Quintuplets</div>
<div class="t" style="left:3252.0px;width:600px;text-align:center;top:1217.3px;font-family:'Liberation Sans', sans-serif;font-size:34.20px;line-height:39.33px;color:#548235;transform:scaleX(1.0300);-webkit-text-stroke:0.3px #548235;transform-origin:center center;">2</div>
<div class="t" style="left:3494.7px;width:600px;text-align:center;top:1217.3px;font-family:'Liberation Sans', sans-serif;font-size:34.20px;line-height:39.33px;color:#548235;transform:scaleX(1.0300);-webkit-text-stroke:0.3px #548235;transform-origin:center center;">0.0%</div>
<div class="t" style="left:2866.0px;top:1270.9px;font-family:'Liberation Sans', sans-serif;font-size:34.20px;line-height:39.33px;color:#548235;transform:scaleX(1.0767);-webkit-text-stroke:0.3px #548235;transform-origin:left center;font-weight:bold;">Delivery Type</div>
<div class="b" style="left:2859.0px;top:1313.5px;width:1070.0px;height:55.4px;background:#e2efda"></div>
<div class="t" style="left:2886.0px;top:1324.4px;font-family:'Liberation Sans', sans-serif;font-size:34.20px;line-height:39.33px;color:#548235;transform:scaleX(1.1076);-webkit-text-stroke:0.3px #548235;transform-origin:left center;">Vaginal</div>
<div class="t" style="left:3252.0px;width:600px;text-align:center;top:1324.4px;font-family:'Liberation Sans', sans-serif;font-size:34.20px;line-height:39.33px;color:#548235;transform:scaleX(1.0300);-webkit-text-stroke:0.3px #548235;transform-origin:center center;">9903</div>
<div class="t" style="left:3494.7px;width:600px;text-align:center;top:1324.4px;font-family:'Liberation Sans', sans-serif;font-size:34.20px;line-height:39.33px;color:#548235;transform:scaleX(1.0300);-webkit-text-stroke:0.3px #548235;transform-origin:center center;">43.4%</div>
<div class="t" style="left:2886.0px;top:1378.0px;font-family:'Liberation Sans', sans-serif;font-size:34.20px;line-height:39.33px;color:#548235;transform:scaleX(1.0526);-webkit-text-stroke:0.3px #548235;transform-origin:left center;">Cesarean Section</div>
<div class="t" style="left:3252.0px;width:600px;text-align:center;top:1378.0px;font-family:'Liberation Sans', sans-serif;font-size:34.20px;line-height:39.33px;color:#548235;transform:scaleX(1.0300);-webkit-text-stroke:0.3px #548235;transform-origin:center center;">12809</div>
<div class="t" style="left:3494.7px;width:600px;text-align:center;top:1378.0px;font-family:'Liberation Sans', sans-serif;font-size:34.20px;line-height:39.33px;color:#548235;transform:scaleX(1.0300);-webkit-text-stroke:0.3px #548235;transform-origin:center center;">56.1%</div>
<div class="b" style="left:2859.0px;top:1420.7px;width:1070.0px;height:55.4px;background:#e2efda"></div>
<div class="t" style="left:2906.0px;top:1431.6px;font-family:'Liberation Sans', sans-serif;font-size:34.20px;line-height:39.33px;color:#548235;transform:scaleX(1.0512);-webkit-text-stroke:0.3px #548235;transform-origin:left center;font-style:italic;">Elective Cesarean Section</div>
<div class="t" style="left:3252.0px;width:600px;text-align:center;top:1431.6px;font-family:'Liberation Sans', sans-serif;font-size:34.20px;line-height:39.33px;color:#548235;transform:scaleX(1.0300);-webkit-text-stroke:0.3px #548235;transform-origin:center center;">3084</div>
<div class="t" style="left:3494.7px;width:600px;text-align:center;top:1431.6px;font-family:'Liberation Sans', sans-serif;font-size:34.20px;line-height:39.33px;color:#548235;transform:scaleX(1.0300);-webkit-text-stroke:0.3px #548235;transform-origin:center center;">13.5%</div>
<div class="t" style="left:2866.0px;top:1485.1px;font-family:'Liberation Sans', sans-serif;font-size:34.20px;line-height:39.33px;color:#548235;transform:scaleX(1.1166);-webkit-text-stroke:0.3px #548235;transform-origin:left center;">Maternal Age (median [Q1 - Q2])</div>
<div class="t" style="left:3252.0px;width:600px;text-align:center;top:1485.1px;font-family:'Liberation Sans', sans-serif;font-size:34.20px;line-height:39.33px;color:#548235;transform:scaleX(1.0300);-webkit-text-stroke:0.3px #548235;transform-origin:center center;">27 Years</div>
<div class="t" style="left:3494.7px;width:600px;text-align:center;top:1485.1px;font-family:'Liberation Sans', sans-serif;font-size:34.20px;line-height:39.33px;color:#548235;transform:scaleX(1.0300);-webkit-text-stroke:0.3px #548235;transform-origin:center center;">23 - 32 Years</div>
<div class="t" style="left:3252.0px;width:600px;text-align:center;top:949.4px;font-family:'Liberation Sans', sans-serif;font-size:34.20px;line-height:39.33px;color:#548235;transform:scaleX(1.0786);-webkit-text-stroke:0.3px #548235;transform-origin:center center;font-weight:bold;">N</div>
<div class="t" style="left:3494.7px;width:600px;text-align:center;top:949.4px;font-family:'Liberation Sans', sans-serif;font-size:34.20px;line-height:39.33px;color:#548235;transform:scaleX(1.0786);-webkit-text-stroke:0.3px #548235;transform-origin:center center;font-weight:bold;">% or Q1 - Q3</div>
<div class="b" style="left:2858.2px;top:939.8px;width:1.5px;height:588.9px;background:#c9c9c9"></div>
<div class="b" style="left:2858.0px;top:993.0px;width:2.0px;height:53.6px;background:#f4f9f1"></div>
<div class="b" style="left:2858.0px;top:1100.1px;width:2.0px;height:53.6px;background:#f4f9f1"></div>
<div class="b" style="left:2858.0px;top:1207.3px;width:2.0px;height:53.6px;background:#f4f9f1"></div>
<div class="b" style="left:2858.0px;top:1314.4px;width:2.0px;height:53.6px;background:#f4f9f1"></div>
<div class="b" style="left:2858.0px;top:1421.6px;width:2.0px;height:53.6px;background:#f4f9f1"></div>
<div class="b" style="left:3442.9px;top:939.8px;width:1.5px;height:588.9px;background:#c9c9c9"></div>
<div class="b" style="left:3442.7px;top:993.0px;width:2.0px;height:53.6px;background:#f4f9f1"></div>
<div class="b" style="left:3442.7px;top:1100.1px;width:2.0px;height:53.6px;background:#f4f9f1"></div>
<div class="b" style="left:3442.7px;top:1207.3px;width:2.0px;height:53.6px;background:#f4f9f1"></div>
<div class="b" style="left:3442.7px;top:1314.4px;width:2.0px;height:53.6px;background:#f4f9f1"></div>
<div class="b" style="left:3442.7px;top:1421.6px;width:2.0px;height:53.6px;background:#f4f9f1"></div>
<div class="b" style="left:3659.6px;top:939.8px;width:1.5px;height:588.9px;background:#c9c9c9"></div>
<div class="b" style="left:3659.3px;top:993.0px;width:2.0px;height:53.6px;background:#f4f9f1"></div>
<div class="b" style="left:3659.3px;top:1100.1px;width:2.0px;height:53.6px;background:#f4f9f1"></div>
<div class="b" style="left:3659.3px;top:1207.3px;width:2.0px;height:53.6px;background:#f4f9f1"></div>
<div class="b" style="left:3659.3px;top:1314.4px;width:2.0px;height:53.6px;background:#f4f9f1"></div>
<div class="b" style="left:3659.3px;top:1421.6px;width:2.0px;height:53.6px;background:#f4f9f1"></div>
<div class="b" style="left:3927.2px;top:939.8px;width:1.5px;height:588.9px;background:#c9c9c9"></div>
<div class="b" style="left:3927.0px;top:993.0px;width:2.0px;height:53.6px;background:#f4f9f1"></div>
<div class="b" style="left:3927.0px;top:1100.1px;width:2.0px;height:53.6px;background:#f4f9f1"></div>
<div class="b" style="left:3927.0px;top:1207.3px;width:2.0px;height:53.6px;background:#f4f9f1"></div>
<div class="b" style="left:3927.0px;top:1314.4px;width:2.0px;height:53.6px;background:#f4f9f1"></div>
<div class="b" style="left:3927.0px;top:1421.6px;width:2.0px;height:53.6px;background:#f4f9f1"></div>
<div class="b" style="left:2859.0px;top:938.8px;width:1070.0px;height:2.5px;background:#70ad47"></div>
<div class="b" style="left:2859.0px;top:992.0px;width:1070.0px;height:2.5px;background:#70ad47"></div>
<div class="b" style="left:2859.0px;top:1527.7px;width:1070.0px;height:2.5px;background:#70ad47"></div>
<div class="b" style="left:3914.0px;top:1521.7px;width:15.0px;height:7.0px;background:#3f51b5"></div>
<div class="b" style="left:3922.0px;top:1513.7px;width:7.0px;height:15.0px;background:#3f51b5"></div>
<div class="b" style="left:2632.0px;top:1560.0px;width:1319.8px;height:112.0px;border:6.5px solid #c2a269;border-radius:1.5px;background:#fff"></div>
<div class="t" style="left:2657.4px;top:1570.0px;font-family:'Liberation Serif', serif;font-size:42.60px;line-height:50.90px;font-weight:bold;">Table 3: Examples of growth measurements captured in the NICU<br>Database including birthweight, birth length, and head circumference.</div>
<div class="b" style="left:2662.0px;top:1761.0px;width:1275.0px;height:59.8px;background:#d9e1f2"></div>
<div class="t" style="left:2670.7px;top:1772.2px;font-family:'Liberation Sans', sans-serif;font-size:36.20px;line-height:41.63px;color:#2f5597;transform:scaleX(1.1113);-webkit-text-stroke:0.3px #2f5597;transform-origin:left center;font-weight:bold;">Birthweight (median [Q1 - Q2])</div>
<div class="t" style="left:3259.3px;width:600px;text-align:center;top:1772.2px;font-family:'Liberation Sans', sans-serif;font-size:36.20px;line-height:41.63px;color:#2f5597;transform:scaleX(1.0300);-webkit-text-stroke:0.3px #2f5597;transform-origin:center center;">2.58 kg</div>
<div class="t" style="left:3489.4px;width:600px;text-align:center;top:1772.2px;font-family:'Liberation Sans', sans-serif;font-size:36.20px;line-height:41.63px;color:#2f5597;transform:scaleX(1.0300);-webkit-text-stroke:0.3px #2f5597;transform-origin:center center;">1.72 - 3.28 kg</div>
<div class="t" style="left:2693.7px;top:1830.0px;font-family:'Liberation Sans', sans-serif;font-size:36.20px;line-height:41.63px;color:#2f5597;transform:scaleX(1.1072);-webkit-text-stroke:0.3px #2f5597;transform-origin:left center;">Extremely Low Birth Weight (ELBW) &lt;1kg</div>
<div class="t" style="left:3259.3px;width:600px;text-align:center;top:1830.0px;font-family:'Liberation Sans', sans-serif;font-size:36.20px;line-height:41.63px;color:#2f5597;transform:scaleX(1.0300);-webkit-text-stroke:0.3px #2f5597;transform-origin:center center;">2282</div>
<div class="t" style="left:3489.4px;width:600px;text-align:center;top:1830.0px;font-family:'Liberation Sans', sans-serif;font-size:36.20px;line-height:41.63px;color:#2f5597;transform:scaleX(1.0300);-webkit-text-stroke:0.3px #2f5597;transform-origin:center center;">10.0%</div>
<div class="b" style="left:2662.0px;top:1876.5px;width:1275.0px;height:59.8px;background:#d9e1f2"></div>
<div class="t" style="left:2693.7px;top:1887.7px;font-family:'Liberation Sans', sans-serif;font-size:36.20px;line-height:41.63px;color:#2f5597;transform:scaleX(1.1108);-webkit-text-stroke:0.3px #2f5597;transform-origin:left center;">Very Low Birth Weight (VLBW) 1 to &lt;1.5kg</div>
<div class="t" style="left:3259.3px;width:600px;text-align:center;top:1887.7px;font-family:'Liberation Sans', sans-serif;font-size:36.20px;line-height:41.63px;color:#2f5597;transform:scaleX(1.0300);-webkit-text-stroke:0.3px #2f5597;transform-origin:center center;">2190</div>
<div class="t" style="left:3489.4px;width:600px;text-align:center;top:1887.7px;font-family:'Liberation Sans', sans-serif;font-size:36.20px;line-height:41.63px;color:#2f5597;transform:scaleX(1.0300);-webkit-text-stroke:0.3px #2f5597;transform-origin:center center;">9.6%</div>
<div class="t" style="left:2693.7px;top:1945.5px;font-family:'Liberation Sans', sans-serif;font-size:36.20px;line-height:41.63px;color:#2f5597;transform:scaleX(1.1102);-webkit-text-stroke:0.3px #2f5597;transform-origin:left center;">Low Birth Weight (LBW) 1.5 to &lt;2.5kg</div>
<div class="t" style="left:3259.3px;width:600px;text-align:center;top:1945.5px;font-family:'Liberation Sans', sans-serif;font-size:36.20px;line-height:41.63px;color:#2f5597;transform:scaleX(1.0300);-webkit-text-stroke:0.3px #2f5597;transform-origin:center center;">6392</div>
<div class="t" style="left:3489.4px;width:600px;text-align:center;top:1945.5px;font-family:'Liberation Sans', sans-serif;font-size:36.20px;line-height:41.63px;color:#2f5597;transform:scaleX(1.0300);-webkit-text-stroke:0.3px #2f5597;transform-origin:center center;">28.0%</div>
<div class="b" style="left:2662.0px;top:1992.0px;width:1275.0px;height:59.8px;background:#d9e1f2"></div>
<div class="t" style="left:2693.7px;top:2003.2px;font-family:'Liberation Sans', sans-serif;font-size:36.20px;line-height:41.63px;color:#2f5597;transform:scaleX(1.1242);-webkit-text-stroke:0.3px #2f5597;transform-origin:left center;">Normal Birth Weight (NBW) 2.5 to &lt;4.0kg</div>
<div class="t" style="left:3259.3px;width:600px;text-align:center;top:2003.2px;font-family:'Liberation Sans', sans-serif;font-size:36.20px;line-height:41.63px;color:#2f5597;transform:scaleX(1.0300);-webkit-text-stroke:0.3px #2f5597;transform-origin:center center;">10805</div>
<div class="t" style="left:3489.4px;width:600px;text-align:center;top:2003.2px;font-family:'Liberation Sans', sans-serif;font-size:36.20px;line-height:41.63px;color:#2f5597;transform:scaleX(1.0300);-webkit-text-stroke:0.3px #2f5597;transform-origin:center center;">47.3%</div>
<div class="t" style="left:2693.7px;top:2061.0px;font-family:'Liberation Sans', sans-serif;font-size:36.20px;line-height:41.63px;color:#2f5597;transform:scaleX(1.1142);-webkit-text-stroke:0.3px #2f5597;transform-origin:left center;">High Birth Weight (HBW) &gt;4.0kg</div>
<div class="t" style="left:3259.3px;width:600px;text-align:center;top:2061.0px;font-family:'Liberation Sans', sans-serif;font-size:36.20px;line-height:41.63px;color:#2f5597;transform:scaleX(1.0300);-webkit-text-stroke:0.3px #2f5597;transform-origin:center center;">1167</div>
<div class="t" style="left:3489.4px;width:600px;text-align:center;top:2061.0px;font-family:'Liberation Sans', sans-serif;font-size:36.20px;line-height:41.63px;color:#2f5597;transform:scaleX(1.0300);-webkit-text-stroke:0.3px #2f5597;transform-origin:center center;">5.1%</div>
<div class="b" style="left:2662.0px;top:2107.5px;width:1275.0px;height:59.8px;background:#d9e1f2"></div>
<div class="t" style="left:2670.7px;top:2118.7px;font-family:'Liberation Sans', sans-serif;font-size:36.20px;line-height:41.63px;color:#2f5597;transform:scaleX(1.0974);-webkit-text-stroke:0.3px #2f5597;transform-origin:left center;font-weight:bold;">Birth Length (median [Q1 - Q2])</div>
<div class="t" style="left:3259.3px;width:600px;text-align:center;top:2118.7px;font-family:'Liberation Sans', sans-serif;font-size:36.20px;line-height:41.63px;color:#2f5597;transform:scaleX(1.0300);-webkit-text-stroke:0.3px #2f5597;transform-origin:center center;">47.5 cm</div>
<div class="t" style="left:3489.4px;width:600px;text-align:center;top:2118.7px;font-family:'Liberation Sans', sans-serif;font-size:36.20px;line-height:41.63px;color:#2f5597;transform:scaleX(1.0300);-webkit-text-stroke:0.3px #2f5597;transform-origin:center center;">43.0 - 51.0 cm</div>
<div class="t" style="left:2670.7px;top:2176.5px;font-family:'Liberation Sans', sans-serif;font-size:36.20px;line-height:41.63px;color:#2f5597;transform:scaleX(1.0861);-webkit-text-stroke:0.3px #2f5597;transform-origin:left center;font-weight:bold;">Head Circumference (median [Q1 - Q2])</div>
<div class="t" style="left:3259.3px;width:600px;text-align:center;top:2176.5px;font-family:'Liberation Sans', sans-serif;font-size:36.20px;line-height:41.63px;color:#2f5597;transform:scaleX(1.0300);-webkit-text-stroke:0.3px #2f5597;transform-origin:center center;">32.5 cm</div>
<div class="t" style="left:3489.4px;width:600px;text-align:center;top:2176.5px;font-family:'Liberation Sans', sans-serif;font-size:36.20px;line-height:41.63px;color:#2f5597;transform:scaleX(1.0300);-webkit-text-stroke:0.3px #2f5597;transform-origin:center center;">29.5 - 34.4 cm</div>
<div class="t" style="left:3259.3px;width:600px;text-align:center;top:1714.5px;font-family:'Liberation Sans', sans-serif;font-size:36.20px;line-height:41.63px;color:#2f5597;transform:scaleX(1.0786);-webkit-text-stroke:0.3px #2f5597;transform-origin:center center;font-weight:bold;">N</div>
<div class="t" style="left:3489.4px;width:600px;text-align:center;top:1714.5px;font-family:'Liberation Sans', sans-serif;font-size:36.20px;line-height:41.63px;color:#2f5597;transform:scaleX(1.0786);-webkit-text-stroke:0.3px #2f5597;transform-origin:center center;font-weight:bold;">% or Q1 - Q3</div>
<div class="b" style="left:2661.2px;top:1704.0px;width:1.5px;height:520.0px;background:#c9c9c9"></div>
<div class="b" style="left:2661.0px;top:1762.0px;width:2.0px;height:57.8px;background:#f3f5fb"></div>
<div class="b" style="left:2661.0px;top:1877.5px;width:2.0px;height:57.8px;background:#f3f5fb"></div>
<div class="b" style="left:2661.0px;top:1993.0px;width:2.0px;height:57.8px;background:#f3f5fb"></div>
<div class="b" style="left:2661.0px;top:2108.5px;width:2.0px;height:57.8px;background:#f3f5fb"></div>
<div class="b" style="left:3476.1px;top:1704.0px;width:1.5px;height:520.0px;background:#c9c9c9"></div>
<div class="b" style="left:3475.8px;top:1762.0px;width:2.0px;height:57.8px;background:#f3f5fb"></div>
<div class="b" style="left:3475.8px;top:1877.5px;width:2.0px;height:57.8px;background:#f3f5fb"></div>
<div class="b" style="left:3475.8px;top:1993.0px;width:2.0px;height:57.8px;background:#f3f5fb"></div>
<div class="b" style="left:3475.8px;top:2108.5px;width:2.0px;height:57.8px;background:#f3f5fb"></div>
<div class="b" style="left:3641.1px;top:1704.0px;width:1.5px;height:520.0px;background:#c9c9c9"></div>
<div class="b" style="left:3640.8px;top:1762.0px;width:2.0px;height:57.8px;background:#f3f5fb"></div>
<div class="b" style="left:3640.8px;top:1877.5px;width:2.0px;height:57.8px;background:#f3f5fb"></div>
<div class="b" style="left:3640.8px;top:1993.0px;width:2.0px;height:57.8px;background:#f3f5fb"></div>
<div class="b" style="left:3640.8px;top:2108.5px;width:2.0px;height:57.8px;background:#f3f5fb"></div>
<div class="b" style="left:3935.2px;top:1704.0px;width:1.5px;height:520.0px;background:#c9c9c9"></div>
<div class="b" style="left:3935.0px;top:1762.0px;width:2.0px;height:57.8px;background:#f3f5fb"></div>
<div class="b" style="left:3935.0px;top:1877.5px;width:2.0px;height:57.8px;background:#f3f5fb"></div>
<div class="b" style="left:3935.0px;top:1993.0px;width:2.0px;height:57.8px;background:#f3f5fb"></div>
<div class="b" style="left:3935.0px;top:2108.5px;width:2.0px;height:57.8px;background:#f3f5fb"></div>
<div class="b" style="left:2662.0px;top:1703.0px;width:1275.0px;height:2.5px;background:#4472c4"></div>
<div class="b" style="left:2662.0px;top:1761.0px;width:1275.0px;height:2.5px;background:#4472c4"></div>
<div class="b" style="left:2662.0px;top:2223.0px;width:1275.0px;height:2.5px;background:#4472c4"></div>
<div class="b" style="left:3922.0px;top:2217.0px;width:15.0px;height:7.0px;background:#3f51b5"></div>
<div class="b" style="left:3930.0px;top:2209.0px;width:7.0px;height:15.0px;background:#3f51b5"></div>
<div class="b" style="left:100.2px;top:1579.5px;width:1212.8px;height:58.5px;background:#d9d9d9"></div>
<div class="t" style="left:109.0px;top:1589.5px;font-family:'Liberation Sans', sans-serif;font-size:35.30px;line-height:40.59px;color:#000;transform:scaleX(1.0728);-webkit-text-stroke:0.3px #000;transform-origin:left center;">Down Syndrome</div>
<div class="t" style="left:890.5px;width:600px;text-align:center;top:1589.5px;font-family:'Liberation Sans', sans-serif;font-size:35.30px;line-height:40.59px;color:#000;transform:scaleX(1.0650);-webkit-text-stroke:0.3px #000;transform-origin:center center;">379</div>
<div class="t" style="left:109.0px;top:1646.0px;font-family:'Liberation Sans', sans-serif;font-size:35.30px;line-height:40.59px;color:#000;transform:scaleX(1.0801);-webkit-text-stroke:0.3px #000;transform-origin:left center;">DiGeorge syndrome</div>
<div class="t" style="left:890.5px;width:600px;text-align:center;top:1646.0px;font-family:'Liberation Sans', sans-serif;font-size:35.30px;line-height:40.59px;color:#000;transform:scaleX(1.0650);-webkit-text-stroke:0.3px #000;transform-origin:center center;">93</div>
<div class="b" style="left:100.2px;top:1692.6px;width:1212.8px;height:58.5px;background:#d9d9d9"></div>
<div class="t" style="left:109.0px;top:1702.6px;font-family:'Liberation Sans', sans-serif;font-size:35.30px;line-height:40.59px;color:#000;transform:scaleX(1.0698);-webkit-text-stroke:0.3px #000;transform-origin:left center;">Chromosome Disorder, No ID</div>
<div class="t" style="left:890.5px;width:600px;text-align:center;top:1702.6px;font-family:'Liberation Sans', sans-serif;font-size:35.30px;line-height:40.59px;color:#000;transform:scaleX(1.0650);-webkit-text-stroke:0.3px #000;transform-origin:center center;">58</div>
<div class="t" style="left:109.0px;top:1759.1px;font-family:'Liberation Sans', sans-serif;font-size:35.30px;line-height:40.59px;color:#000;transform:scaleX(1.0783);-webkit-text-stroke:0.3px #000;transform-origin:left center;">Turner Syndrome</div>
<div class="t" style="left:890.5px;width:600px;text-align:center;top:1759.1px;font-family:'Liberation Sans', sans-serif;font-size:35.30px;line-height:40.59px;color:#000;transform:scaleX(1.0650);-webkit-text-stroke:0.3px #000;transform-origin:center center;">57</div>
<div class="b" style="left:100.2px;top:1805.6px;width:1212.8px;height:58.5px;background:#d9d9d9"></div>
<div class="t" style="left:109.0px;top:1815.6px;font-family:'Liberation Sans', sans-serif;font-size:35.30px;line-height:40.59px;color:#000;transform:scaleX(1.0720);-webkit-text-stroke:0.3px #000;transform-origin:left center;">Trisomy 18</div>
<div class="t" style="left:890.5px;width:600px;text-align:center;top:1815.6px;font-family:'Liberation Sans', sans-serif;font-size:35.30px;line-height:40.59px;color:#000;transform:scaleX(1.0650);-webkit-text-stroke:0.3px #000;transform-origin:center center;">37</div>
<div class="t" style="left:109.0px;top:1872.2px;font-family:'Liberation Sans', sans-serif;font-size:35.30px;line-height:40.59px;color:#000;transform:scaleX(1.0147);-webkit-text-stroke:0.3px #000;transform-origin:left center;">Cystic Fibrosis</div>
<div class="t" style="left:890.5px;width:600px;text-align:center;top:1872.2px;font-family:'Liberation Sans', sans-serif;font-size:35.30px;line-height:40.59px;color:#000;transform:scaleX(1.0650);-webkit-text-stroke:0.3px #000;transform-origin:center center;">36</div>
<div class="b" style="left:100.2px;top:1918.7px;width:1212.8px;height:58.5px;background:#d9d9d9"></div>
<div class="t" style="left:109.0px;top:1928.7px;font-family:'Liberation Sans', sans-serif;font-size:35.30px;line-height:40.59px;color:#000;transform:scaleX(1.0852);-webkit-text-stroke:0.3px #000;transform-origin:left center;">Chromosome 15q11.2 deletion syndrome</div>
<div class="t" style="left:890.5px;width:600px;text-align:center;top:1928.7px;font-family:'Liberation Sans', sans-serif;font-size:35.30px;line-height:40.59px;color:#000;transform:scaleX(1.0650);-webkit-text-stroke:0.3px #000;transform-origin:center center;">17</div>
<div class="t" style="left:109.0px;top:1985.2px;font-family:'Liberation Sans', sans-serif;font-size:35.30px;line-height:40.59px;color:#000;transform:scaleX(1.0720);-webkit-text-stroke:0.3px #000;transform-origin:left center;">Trisomy 13</div>
<div class="t" style="left:890.5px;width:600px;text-align:center;top:1985.2px;font-family:'Liberation Sans', sans-serif;font-size:35.30px;line-height:40.59px;color:#000;transform:scaleX(1.0650);-webkit-text-stroke:0.3px #000;transform-origin:center center;">15</div>
<div class="b" style="left:100.2px;top:2031.7px;width:1212.8px;height:58.5px;background:#d9d9d9"></div>
<div class="t" style="left:109.0px;top:2041.7px;font-family:'Liberation Sans', sans-serif;font-size:35.30px;line-height:40.59px;color:#000;transform:scaleX(1.0885);-webkit-text-stroke:0.3px #000;transform-origin:left center;">Klinefelter Syndrome</div>
<div class="t" style="left:890.5px;width:600px;text-align:center;top:2041.7px;font-family:'Liberation Sans', sans-serif;font-size:35.30px;line-height:40.59px;color:#000;transform:scaleX(1.0650);-webkit-text-stroke:0.3px #000;transform-origin:center center;">14</div>
<div class="t" style="left:109.0px;top:2098.3px;font-family:'Liberation Sans', sans-serif;font-size:35.30px;line-height:40.59px;color:#000;transform:scaleX(1.0124);-webkit-text-stroke:0.3px #000;transform-origin:left center;">CHARGE Syndrome</div>
<div class="t" style="left:890.5px;width:600px;text-align:center;top:2098.3px;font-family:'Liberation Sans', sans-serif;font-size:35.30px;line-height:40.59px;color:#000;transform:scaleX(1.0650);-webkit-text-stroke:0.3px #000;transform-origin:center center;">14</div>
<div class="b" style="left:100.2px;top:2144.8px;width:1212.8px;height:58.5px;background:#d9d9d9"></div>
<div class="t" style="left:109.0px;top:2154.8px;font-family:'Liberation Sans', sans-serif;font-size:35.30px;line-height:40.59px;color:#000;transform:scaleX(1.0881);-webkit-text-stroke:0.3px #000;transform-origin:left center;">Beckwith-Wiedemann Syndrome</div>
<div class="t" style="left:890.5px;width:600px;text-align:center;top:2154.8px;font-family:'Liberation Sans', sans-serif;font-size:35.30px;line-height:40.59px;color:#000;transform:scaleX(1.0650);-webkit-text-stroke:0.3px #000;transform-origin:center center;">13</div>
<div class="t" style="left:109.0px;top:2211.3px;font-family:'Liberation Sans', sans-serif;font-size:35.30px;line-height:40.59px;color:#000;transform:scaleX(1.0620);-webkit-text-stroke:0.3px #000;transform-origin:left center;">Noonan Syndrome 1</div>
<div class="t" style="left:890.5px;width:600px;text-align:center;top:2211.3px;font-family:'Liberation Sans', sans-serif;font-size:35.30px;line-height:40.59px;color:#000;transform:scaleX(1.0650);-webkit-text-stroke:0.3px #000;transform-origin:center center;">13</div>
<div class="b" style="left:100.2px;top:2257.8px;width:1212.8px;height:58.5px;background:#d9d9d9"></div>
<div class="t" style="left:109.0px;top:2267.9px;font-family:'Liberation Sans', sans-serif;font-size:35.30px;line-height:40.59px;color:#000;transform:scaleX(1.0948);-webkit-text-stroke:0.3px #000;transform-origin:left center;">Thrombophilia due to activated protein C resistance</div>
<div class="t" style="left:890.5px;width:600px;text-align:center;top:2267.9px;font-family:'Liberation Sans', sans-serif;font-size:35.30px;line-height:40.59px;color:#000;transform:scaleX(1.0650);-webkit-text-stroke:0.3px #000;transform-origin:center center;">13</div>
<div class="t" style="left:109.0px;top:2324.4px;font-family:'Liberation Sans', sans-serif;font-size:35.30px;line-height:40.59px;color:#000;transform:scaleX(1.0768);-webkit-text-stroke:0.3px #000;transform-origin:left center;">Prader-Willi Syndrome</div>
<div class="t" style="left:890.5px;width:600px;text-align:center;top:2324.4px;font-family:'Liberation Sans', sans-serif;font-size:35.30px;line-height:40.59px;color:#000;transform:scaleX(1.0650);-webkit-text-stroke:0.3px #000;transform-origin:center center;">12</div>
<div class="b" style="left:100.2px;top:2370.9px;width:1212.8px;height:58.5px;background:#d9d9d9"></div>
<div class="t" style="left:109.0px;top:2380.9px;font-family:'Liberation Sans', sans-serif;font-size:35.30px;line-height:40.59px;color:#000;transform:scaleX(1.0608);-webkit-text-stroke:0.3px #000;transform-origin:left center;">Stickler Syndrome Type 1</div>
<div class="t" style="left:890.5px;width:600px;text-align:center;top:2380.9px;font-family:'Liberation Sans', sans-serif;font-size:35.30px;line-height:40.59px;color:#000;transform:scaleX(1.0650);-webkit-text-stroke:0.3px #000;transform-origin:center center;">11</div>
<div class="t" style="left:109.0px;top:2437.4px;font-family:'Liberation Sans', sans-serif;font-size:35.30px;line-height:40.59px;color:#000;transform:scaleX(1.0535);-webkit-text-stroke:0.3px #000;transform-origin:left center;">Cornelia de Lange Syndrome 1</div>
<div class="t" style="left:890.5px;width:600px;text-align:center;top:2437.4px;font-family:'Liberation Sans', sans-serif;font-size:35.30px;line-height:40.59px;color:#000;transform:scaleX(1.0650);-webkit-text-stroke:0.3px #000;transform-origin:center center;">10</div>
<div class="b" style="left:100.2px;top:2483.9px;width:1212.8px;height:58.5px;background:#d9d9d9"></div>
<div class="t" style="left:109.0px;top:2494.0px;font-family:'Liberation Sans', sans-serif;font-size:35.30px;line-height:40.59px;color:#000;transform:scaleX(1.0900);-webkit-text-stroke:0.3px #000;transform-origin:left center;">Chromosome 22q11.2 Microduplication Syndrome</div>
<div class="t" style="left:890.5px;width:600px;text-align:center;top:2494.0px;font-family:'Liberation Sans', sans-serif;font-size:35.30px;line-height:40.59px;color:#000;transform:scaleX(1.0650);-webkit-text-stroke:0.3px #000;transform-origin:center center;">10</div>
<div class="t" style="left:109.0px;top:2550.5px;font-family:'Liberation Sans', sans-serif;font-size:35.30px;line-height:40.59px;color:#000;transform:scaleX(1.0854);-webkit-text-stroke:0.3px #000;transform-origin:left center;">Chromosome 16p11.2 duplication syndrome</div>
<div class="t" style="left:890.5px;width:600px;text-align:center;top:2550.5px;font-family:'Liberation Sans', sans-serif;font-size:35.30px;line-height:40.59px;color:#000;transform:scaleX(1.0650);-webkit-text-stroke:0.3px #000;transform-origin:center center;">10</div>
<div class="t" style="left:285.9px;width:600px;text-align:center;top:1533.1px;font-family:'Liberation Sans', sans-serif;font-size:35.30px;line-height:40.59px;color:#000;transform:scaleX(1.0638);-webkit-text-stroke:0.3px #000;transform-origin:center center;font-weight:bold;">Disorder</div>
<div class="t" style="left:892.0px;width:600px;text-align:center;top:1533.3px;font-family:'Liberation Sans', sans-serif;font-size:35.30px;line-height:40.59px;color:#000;transform:scaleX(1.0638);-webkit-text-stroke:0.3px #000;transform-origin:center center;font-weight:bold;">Count</div>
<div class="b" style="left:99.5px;top:1523.2px;width:1.5px;height:1074.8px;background:#c9c9c9"></div>
<div class="b" style="left:99.2px;top:1580.5px;width:2.0px;height:56.5px;background:#e4e4e4"></div>
<div class="b" style="left:99.2px;top:1693.6px;width:2.0px;height:56.5px;background:#e4e4e4"></div>
<div class="b" style="left:99.2px;top:1806.6px;width:2.0px;height:56.5px;background:#e4e4e4"></div>
<div class="b" style="left:99.2px;top:1919.7px;width:2.0px;height:56.5px;background:#e4e4e4"></div>
<div class="b" style="left:99.2px;top:2032.7px;width:2.0px;height:56.5px;background:#e4e4e4"></div>
<div class="b" style="left:99.2px;top:2145.8px;width:2.0px;height:56.5px;background:#e4e4e4"></div>
<div class="b" style="left:99.2px;top:2258.8px;width:2.0px;height:56.5px;background:#e4e4e4"></div>
<div class="b" style="left:99.2px;top:2371.9px;width:2.0px;height:56.5px;background:#e4e4e4"></div>
<div class="b" style="left:99.2px;top:2484.9px;width:2.0px;height:56.5px;background:#e4e4e4"></div>
<div class="b" style="left:1070.8px;top:1523.2px;width:1.5px;height:1074.8px;background:#c9c9c9"></div>
<div class="b" style="left:1070.5px;top:1580.5px;width:2.0px;height:56.5px;background:#e4e4e4"></div>
<div class="b" style="left:1070.5px;top:1693.6px;width:2.0px;height:56.5px;background:#e4e4e4"></div>
<div class="b" style="left:1070.5px;top:1806.6px;width:2.0px;height:56.5px;background:#e4e4e4"></div>
<div class="b" style="left:1070.5px;top:1919.7px;width:2.0px;height:56.5px;background:#e4e4e4"></div>
<div class="b" style="left:1070.5px;top:2032.7px;width:2.0px;height:56.5px;background:#e4e4e4"></div>
<div class="b" style="left:1070.5px;top:2145.8px;width:2.0px;height:56.5px;background:#e4e4e4"></div>
<div class="b" style="left:1070.5px;top:2258.8px;width:2.0px;height:56.5px;background:#e4e4e4"></div>
<div class="b" style="left:1070.5px;top:2371.9px;width:2.0px;height:56.5px;background:#e4e4e4"></div>
<div class="b" style="left:1070.5px;top:2484.9px;width:2.0px;height:56.5px;background:#e4e4e4"></div>
<div class="b" style="left:1307.2px;top:1523.2px;width:1.5px;height:1074.8px;background:#c9c9c9"></div>
<div class="b" style="left:1307.0px;top:1580.5px;width:2.0px;height:56.5px;background:#e4e4e4"></div>
<div class="b" style="left:1307.0px;top:1693.6px;width:2.0px;height:56.5px;background:#e4e4e4"></div>
<div class="b" style="left:1307.0px;top:1806.6px;width:2.0px;height:56.5px;background:#e4e4e4"></div>
<div class="b" style="left:1307.0px;top:1919.7px;width:2.0px;height:56.5px;background:#e4e4e4"></div>
<div class="b" style="left:1307.0px;top:2032.7px;width:2.0px;height:56.5px;background:#e4e4e4"></div>
<div class="b" style="left:1307.0px;top:2145.8px;width:2.0px;height:56.5px;background:#e4e4e4"></div>
<div class="b" style="left:1307.0px;top:2258.8px;width:2.0px;height:56.5px;background:#e4e4e4"></div>
<div class="b" style="left:1307.0px;top:2371.9px;width:2.0px;height:56.5px;background:#e4e4e4"></div>
<div class="b" style="left:1307.0px;top:2484.9px;width:2.0px;height:56.5px;background:#e4e4e4"></div>
<div class="b" style="left:1308.0px;top:1523.2px;width:5.0px;height:1074.8px;background:#d6d6d6"></div>
<div class="b" style="left:100.2px;top:1522.0px;width:1212.8px;height:2.4px;background:#000"></div>
<div class="b" style="left:100.2px;top:1578.5px;width:1212.8px;height:2.8px;background:#000"></div>
<div class="b" style="left:100.2px;top:2596.5px;width:1212.8px;height:3.0px;background:#000"></div>
<div class="b" style="left:1296.0px;top:2590.0px;width:14.0px;height:6.5px;background:#3f51b5"></div>
<div class="b" style="left:1303.0px;top:2583.0px;width:7.0px;height:13.5px;background:#3f51b5"></div>
<svg class="b" style="left:100px;top:2820px" width="300" height="300" viewBox="0 0 1932 1932"><rect x="222" y="268" width="1100" height="1470" rx="48" fill="#d9dee2"/><rect x="207" y="255" width="1100" height="1470" rx="48" fill="#0c3245"/><rect x="278" y="340" width="960" height="1268" fill="#c3ebea"/><circle cx="457" cy="513" r="135" fill="#de4045"/><rect x="427" y="408" width="60" height="210" rx="30" fill="#fff"/><rect x="352" y="483" width="210" height="60" rx="30" fill="#fff"/><rect x="640" y="425" width="185" height="70" fill="#f4f4f2"/><path d="M630 460 H730 L745 478 H835 V610 H630 Z" fill="#f9d673"/><path d="M835 478 L850 470 L835 610 Z" fill="#e0b95a"/><rect x="985" y="490" width="205" height="43" fill="#62adc0"/><rect x="868" y="567" width="322" height="43" fill="#62adc0"/><rect x="328" y="697" width="257" height="256" rx="38" fill="#fff"/><circle cx="457" cy="772" r="58" fill="#82b7c9"/><path d="M368 953 V905 Q368 850 423 850 H492 Q547 850 547 905 V953 Z" fill="#82b7c9"/><rect x="630" y="697" width="560" height="256" fill="#dff3f2"/><rect x="328" y="1015" width="257" height="28" fill="#62adc0"/><rect x="328" y="1087" width="862" height="28" fill="#62adc0"/><rect x="328" y="1147" width="862" height="28" fill="#62adc0"/><rect x="328" y="1207" width="862" height="28" fill="#62adc0"/><path d="M461 1520 C400 1480 328 1440 328 1375 C328 1330 365 1308 400 1308 C430 1308 450 1322 461 1345 C472 1322 492 1308 522 1308 C557 1308 595 1330 595 1375 C595 1440 522 1480 461 1520 Z" fill="#de4045"/><polyline points="700,1438 800,1438 842,1318 880,1515 908,1375 935,1455 962,1340 995,1515 1025,1372 1050,1458 1150,1458" fill="none" stroke="#de4045" stroke-width="7" stroke-linejoin="miter"/><rect x="718" y="1640" width="79" height="52" fill="#fff"/><rect x="1100" y="140" width="468" height="307" rx="32" fill="#de4045"/><polygon points="1212,440 1212,525 1300,440" fill="#de4045"/><rect x="1178" y="227" width="257" height="25" fill="#f1a3a6"/><rect x="1178" y="280" width="257" height="25" fill="#f1a3a6"/><rect x="1178" y="332" width="257" height="25" fill="#f1a3a6"/><polygon points="1478,200 1522,200 1512,345 1488,345" fill="#f1a3a6"/><rect x="1487" y="360" width="25" height="25" fill="#f1a3a6"/></svg>
<svg class="b" style="left:130px;top:3140px" width="300" height="300" viewBox="0 0 1932 1932"><defs><linearGradient id="gr" x1="370" x2="925" y1="0" y2="0" gradientUnits="userSpaceOnUse"><stop offset="0" stop-color="#f02a36"/><stop offset="0.35" stop-color="#a81c22"/><stop offset="1" stop-color="#2a0306"/></linearGradient><linearGradient id="gp" x1="370" x2="925" y1="0" y2="0" gradientUnits="userSpaceOnUse"><stop offset="0" stop-color="#b524a3"/><stop offset="0.5" stop-color="#4a1450"/><stop offset="0.8" stop-color="#5a2a80"/><stop offset="1" stop-color="#8a44c0"/></linearGradient><clipPath id="dc"><rect x="300" y="160" width="700" height="1565"/></clipPath></defs><g clip-path="url(#dc)"><line x1="503" y1="172" x2="695" y2="172" stroke="#f7941d" stroke-width="36" stroke-linecap="round"/><line x1="685" y1="172" x2="868" y2="172" stroke="#2c9fc9" stroke-width="36" stroke-linecap="round"/><line x1="579" y1="232" x2="730" y2="232" stroke="#e81c2c" stroke-width="36" stroke-linecap="round"/><line x1="720" y1="232" x2="861" y2="232" stroke="#a52ab0" stroke-width="36" stroke-linecap="round"/><line x1="680" y1="300" x2="759" y2="300" stroke="#3bb54a" stroke-width="36" stroke-linecap="round"/><line x1="749" y1="300" x2="819" y2="300" stroke="#8ad07a" stroke-width="36" stroke-linecap="round"/><line x1="645" y1="470" x2="756" y2="470" stroke="#8ad07a" stroke-width="36" stroke-linecap="round"/><line x1="746" y1="470" x2="847" y2="470" stroke="#3bb54a" stroke-width="36" stroke-linecap="round"/><line x1="544" y1="543" x2="723" y2="543" stroke="#a52ab0" stroke-width="36" stroke-linecap="round"/><line x1="713" y1="543" x2="881" y2="543" stroke="#e81c2c" stroke-width="36" stroke-linecap="round"/><line x1="478" y1="603" x2="686" y2="603" stroke="#2c9fc9" stroke-width="36" stroke-linecap="round"/><line x1="676" y1="603" x2="874" y2="603" stroke="#f7941d" stroke-width="36" stroke-linecap="round"/><line x1="436" y1="660" x2="648" y2="660" stroke="#6cc04a" stroke-width="36" stroke-linecap="round"/><line x1="638" y1="660" x2="839" y2="660" stroke="#2c9fc9" stroke-width="36" stroke-linecap="round"/><line x1="421" y1="725" x2="606" y2="725" stroke="#2c9fc9" stroke-width="36" stroke-linecap="round"/><line x1="596" y1="725" x2="770" y2="725" stroke="#f7941d" stroke-width="36" stroke-linecap="round"/><line x1="442" y1="790" x2="571" y2="790" stroke="#f7941d" stroke-width="36" stroke-linecap="round"/><line x1="561" y1="790" x2="680" y2="790" stroke="#6cc04a" stroke-width="36" stroke-linecap="round"/><line x1="446" y1="1010" x2="563" y2="1010" stroke="#3bb54a" stroke-width="36" stroke-linecap="round"/><line x1="553" y1="1010" x2="659" y2="1010" stroke="#8ad07a" stroke-width="36" stroke-linecap="round"/><line x1="418" y1="1083" x2="598" y2="1083" stroke="#e81c2c" stroke-width="36" stroke-linecap="round"/><line x1="588" y1="1083" x2="758" y2="1083" stroke="#a52ab0" stroke-width="36" stroke-linecap="round"/><line x1="430" y1="1142" x2="635" y2="1142" stroke="#f7941d" stroke-width="36" stroke-linecap="round"/><line x1="625" y1="1142" x2="820" y2="1142" stroke="#1b4e70" stroke-width="36" stroke-linecap="round"/><line x1="470" y1="1200" x2="674" y2="1200" stroke="#1b4e70" stroke-width="36" stroke-linecap="round"/><line x1="664" y1="1200" x2="858" y2="1200" stroke="#6cc04a" stroke-width="36" stroke-linecap="round"/><line x1="543" y1="1265" x2="715" y2="1265" stroke="#f7941d" stroke-width="36" stroke-linecap="round"/><line x1="705" y1="1265" x2="868" y2="1265" stroke="#2c9fc9" stroke-width="36" stroke-linecap="round"/><line x1="634" y1="1330" x2="748" y2="1330" stroke="#6cc04a" stroke-width="36" stroke-linecap="round"/><line x1="738" y1="1330" x2="842" y2="1330" stroke="#f7941d" stroke-width="36" stroke-linecap="round"/><line x1="609" y1="1555" x2="746" y2="1555" stroke="#8ad07a" stroke-width="36" stroke-linecap="round"/><line x1="736" y1="1555" x2="863" y2="1555" stroke="#3bb54a" stroke-width="36" stroke-linecap="round"/><line x1="512" y1="1630" x2="707" y2="1630" stroke="#a52ab0" stroke-width="36" stroke-linecap="round"/><line x1="697" y1="1630" x2="882" y2="1630" stroke="#e81c2c" stroke-width="36" stroke-linecap="round"/><line x1="455" y1="1690" x2="668" y2="1690" stroke="#2c9fc9" stroke-width="36" stroke-linecap="round"/><line x1="658" y1="1690" x2="860" y2="1690" stroke="#f7941d" stroke-width="36" stroke-linecap="round"/><polygon points="417.6,60 424.0,70 431.3,80 439.3,90 448.1,100 457.6,110 467.8,120 478.6,130 490.0,140 501.9,150 514.4,160 527.4,170 540.8,180 554.5,190 568.7,200 583.0,210 597.7,220 612.5,230 627.4,240 642.5,250 657.5,260 672.6,270 687.5,280 702.3,290 717.0,300 731.3,310 745.5,320 759.2,330 772.6,340 785.6,350 798.1,360 810.0,370 821.4,380 832.2,390 842.4,400 851.9,410 860.7,420 868.7,430 876.0,440 882.4,450 888.1,460 892.9,470 896.9,480 900.0,490 902.2,500 903.6,510 904.0,520 903.6,530 902.2,540 900.0,550 896.9,560 892.9,570 888.1,580 882.4,590 876.0,600 868.7,610 860.7,620 851.9,630 842.4,640 832.2,650 821.4,660 810.0,670 798.1,680 785.6,690 772.6,700 759.2,710 745.5,720 731.3,730 717.0,740 702.3,750 687.5,760 672.6,770 657.5,780 642.5,790 627.4,800 612.5,810 597.7,820 583.0,830 568.7,840 554.5,850 540.8,860 527.4,870 514.4,880 501.9,890 490.0,900 478.6,910 467.8,920 457.6,930 448.1,940 439.3,950 431.3,960 424.0,970 417.6,980 411.9,990 407.1,1000 403.1,1010 400.0,1020 397.8,1030 396.4,1040 396.0,1050 396.4,1060 397.8,1070 400.0,1080 403.1,1090 407.1,1100 411.9,1110 417.6,1120 424.0,1130 431.3,1140 439.3,1150 448.1,1160 457.6,1170 467.8,1180 478.6,1190 490.0,1200 501.9,1210 514.4,1220 527.4,1230 540.8,1240 554.5,1250 568.7,1260 583.0,1270 597.7,1280 612.5,1290 627.4,1300 642.5,1310 657.5,1320 672.6,1330 687.5,1340 702.3,1350 717.0,1360 731.3,1370 745.5,1380 759.2,1390 772.6,1400 785.6,1410 798.1,1420 810.0,1430 821.4,1440 832.2,1450 842.4,1460 851.9,1470 860.7,1480 868.7,1490 876.0,1500 882.4,1510 888.1,1520 892.9,1530 896.9,1540 900.0,1550 902.2,1560 903.6,1570 904.0,1580 903.6,1590 902.2,1600 900.0,1610 896.9,1620 892.9,1630 888.1,1640 882.4,1650 876.0,1660 868.7,1670 860.7,1680 851.9,1690 842.4,1700 832.2,1710 821.4,1720 810.0,1730 798.1,1740 798.1,1820 810.0,1810 821.4,1800 832.2,1790 842.4,1780 851.9,1770 860.7,1760 868.7,1750 876.0,1740 882.4,1730 888.1,1720 892.9,1710 896.9,1700 900.0,1690 902.2,1680 903.6,1670 904.0,1660 903.6,1650 902.2,1640 900.0,1630 896.9,1620 892.9,1610 888.1,1600 882.4,1590 876.0,1580 868.7,1570 860.7,1560 851.9,1550 842.4,1540 832.2,1530 821.4,1520 810.0,1510 798.1,1500 785.6,1490 772.6,1480 759.2,1470 745.5,1460 731.3,1450 717.0,1440 702.3,1430 687.5,1420 672.6,1410 657.5,1400 642.5,1390 627.4,1380 612.5,1370 597.7,1360 583.0,1350 568.7,1340 554.5,1330 540.8,1320 527.4,1310 514.4,1300 501.9,1290 490.0,1280 478.6,1270 467.8,1260 457.6,1250 448.1,1240 439.3,1230 431.3,1220 424.0,1210 417.6,1200 411.9,1190 407.1,1180 403.1,1170 400.0,1160 397.8,1150 396.4,1140 396.0,1130 396.4,1120 397.8,1110 400.0,1100 403.1,1090 407.1,1080 411.9,1070 417.6,1060 424.0,1050 431.3,1040 439.3,1030 448.1,1020 457.6,1010 467.8,1000 478.6,990 490.0,980 501.9,970 514.4,960 527.4,950 540.8,940 554.5,930 568.7,920 583.0,910 597.7,900 612.5,890 627.4,880 642.5,870 657.5,860 672.6,850 687.5,840 702.3,830 717.0,820 731.3,810 745.5,800 759.2,790 772.6,780 785.6,770 798.1,760 810.0,750 821.4,740 832.2,730 842.4,720 851.9,710 860.7,700 868.7,690 876.0,680 882.4,670 888.1,660 892.9,650 896.9,640 900.0,630 902.2,620 903.6,610 904.0,600 903.6,590 902.2,580 900.0,570 896.9,560 892.9,550 888.1,540 882.4,530 876.0,520 868.7,510 860.7,500 851.9,490 842.4,480 832.2,470 821.4,460 810.0,450 798.1,440 785.6,430 772.6,420 759.2,410 745.5,400 731.3,390 717.0,380 702.3,370 687.5,360 672.6,350 657.5,340 642.5,330 627.4,320 612.5,310 597.7,300 583.0,290 568.7,280 554.5,270 540.8,260 527.4,250 514.4,240 501.9,230 490.0,220 478.6,210 467.8,200 457.6,190 448.1,180 439.3,170 431.3,160 424.0,150 417.6,140" fill="url(#gp)" stroke="url(#gp)" stroke-width="26" stroke-linejoin="round"/><polygon points="856.8,60 863.9,70 870.1,80 875.6,90 880.3,100 884.1,110 887.1,120 889.3,130 890.6,140 891.0,150 890.6,160 889.3,170 887.1,180 884.1,190 880.3,200 875.6,210 870.1,220 863.9,230 856.8,240 849.0,250 840.5,260 831.3,270 821.5,280 811.0,290 800.0,300 788.4,310 776.3,320 763.8,330 750.8,340 737.5,350 723.8,360 709.8,370 695.7,380 681.3,390 666.8,400 652.3,410 637.7,420 623.2,430 608.7,440 594.3,450 580.2,460 566.2,470 552.5,480 539.2,490 526.2,500 513.7,510 501.6,520 490.0,530 479.0,540 468.5,550 458.7,560 449.5,570 441.0,580 433.2,590 426.1,600 419.9,610 414.4,620 409.7,630 405.9,640 402.9,650 400.7,660 399.4,670 399.0,680 399.4,690 400.7,700 402.9,710 405.9,720 409.7,730 414.4,740 419.9,750 426.1,760 433.2,770 441.0,780 449.5,790 458.7,800 468.5,810 479.0,820 490.0,830 501.6,840 513.7,850 526.2,860 539.2,870 552.5,880 566.2,890 580.2,900 594.3,910 608.7,920 623.2,930 637.7,940 652.3,950 666.8,960 681.3,970 695.7,980 709.8,990 723.8,1000 737.5,1010 750.8,1020 763.8,1030 776.3,1040 788.4,1050 800.0,1060 811.0,1070 821.5,1080 831.3,1090 840.5,1100 849.0,1110 856.8,1120 863.9,1130 870.1,1140 875.6,1150 880.3,1160 884.1,1170 887.1,1180 889.3,1190 890.6,1200 891.0,1210 890.6,1220 889.3,1230 887.1,1240 884.1,1250 880.3,1260 875.6,1270 870.1,1280 863.9,1290 856.8,1300 849.0,1310 840.5,1320 831.3,1330 821.5,1340 811.0,1350 800.0,1360 788.4,1370 776.3,1380 763.8,1390 750.8,1400 737.5,1410 723.8,1420 709.8,1430 695.7,1440 681.3,1450 666.8,1460 652.3,1470 637.7,1480 623.2,1490 608.7,1500 594.3,1510 580.2,1520 566.2,1530 552.5,1540 539.2,1550 526.2,1560 513.7,1570 501.6,1580 490.0,1590 479.0,1600 468.5,1610 458.7,1620 449.5,1630 441.0,1640 433.2,1650 426.1,1660 419.9,1670 414.4,1680 409.7,1690 405.9,1700 402.9,1710 400.7,1720 399.4,1730 399.0,1740 399.0,1820 399.4,1810 400.7,1800 402.9,1790 405.9,1780 409.7,1770 414.4,1760 419.9,1750 426.1,1740 433.2,1730 441.0,1720 449.5,1710 458.7,1700 468.5,1690 479.0,1680 490.0,1670 501.6,1660 513.7,1650 526.2,1640 539.2,1630 552.5,1620 566.2,1610 580.2,1600 594.3,1590 608.7,1580 623.2,1570 637.7,1560 652.3,1550 666.8,1540 681.3,1530 695.7,1520 709.8,1510 723.8,1500 737.5,1490 750.8,1480 763.8,1470 776.3,1460 788.4,1450 800.0,1440 811.0,1430 821.5,1420 831.3,1410 840.5,1400 849.0,1390 856.8,1380 863.9,1370 870.1,1360 875.6,1350 880.3,1340 884.1,1330 887.1,1320 889.3,1310 890.6,1300 891.0,1290 890.6,1280 889.3,1270 887.1,1260 884.1,1250 880.3,1240 875.6,1230 870.1,1220 863.9,1210 856.8,1200 849.0,1190 840.5,1180 831.3,1170 821.5,1160 811.0,1150 800.0,1140 788.4,1130 776.3,1120 763.8,1110 750.8,1100 737.5,1090 723.8,1080 709.8,1070 695.7,1060 681.3,1050 666.8,1040 652.3,1030 637.7,1020 623.2,1010 608.7,1000 594.3,990 580.2,980 566.2,970 552.5,960 539.2,950 526.2,940 513.7,930 501.6,920 490.0,910 479.0,900 468.5,890 458.7,880 449.5,870 441.0,860 433.2,850 426.1,840 419.9,830 414.4,820 409.7,810 405.9,800 402.9,790 400.7,780 399.4,770 399.0,760 399.4,750 400.7,740 402.9,730 405.9,720 409.7,710 414.4,700 419.9,690 426.1,680 433.2,670 441.0,660 449.5,650 458.7,640 468.5,630 479.0,620 490.0,610 501.6,600 513.7,590 526.2,580 539.2,570 552.5,560 566.2,550 580.2,540 594.3,530 608.7,520 623.2,510 637.7,500 652.3,490 666.8,480 681.3,470 695.7,460 709.8,450 723.8,440 737.5,430 750.8,420 763.8,410 776.3,400 788.4,390 800.0,380 811.0,370 821.5,360 831.3,350 840.5,340 849.0,330 856.8,320 863.9,310 870.1,300 875.6,290 880.3,280 884.1,270 887.1,260 889.3,250 890.6,240 891.0,230 890.6,220 889.3,210 887.1,200 884.1,190 880.3,180 875.6,170 870.1,160 863.9,150 856.8,140" fill="url(#gr)" stroke="url(#gr)" stroke-width="28" stroke-linejoin="round"/></g></svg>
<svg class="b" style="left:100px;top:3420px" width="300" height="300" viewBox="0 0 1932 1932"><path d="M125 1005 L125 1035 Q130 1050 150 1060 L900 1415 Q925 1425 950 1415 L1510 1200 Q1528 1192 1525 1165 Z" fill="#1f2758"/><path d="M135 995 L700 833 L1520 1160 L935 1385 Q920 1390 905 1383 L140 1015 Q125 1005 135 995 Z" fill="#e3e1e1"/><path d="M740 1100 L1520 1160 L935 1385 Q920 1390 905 1383 L760 1310 Z" fill="#c9c6c7" opacity="0.8"/><polygon points="400,945 700,860 1160,1045 870,1150" fill="#2b2c3f"/><polygon points="910,1165 1205,1070 1430,1160 1130,1268" fill="#26273b"/><polygon points="435,1110 545,1070 790,1170 680,1218" fill="#5a5b66"/><path d="M770 170 Q775 138 808 148 L1600 385 Q1635 397 1630 435 L1548 1115 Q1543 1150 1510 1137 L740 815 Q715 803 718 775 Z" fill="#141c4e"/><path d="M790 185 Q793 160 815 167 L1590 400 Q1615 408 1612 435 L1535 1105 Q1531 1130 1508 1120 L750 800 Q733 792 735 772 Z" fill="#1f2033" stroke="#f3f3f3" stroke-width="7"/><path d="M760 810 Q1000 850 1250 815 L1545 1020 L1535 1105 Q1531 1130 1508 1120 Z" fill="#0a0f33" opacity="0.75"/><rect x="1460" y="1185" width="45" height="22" rx="8" fill="#eee" transform="rotate(-21 1482 1196)"/></svg>
</body></html>
